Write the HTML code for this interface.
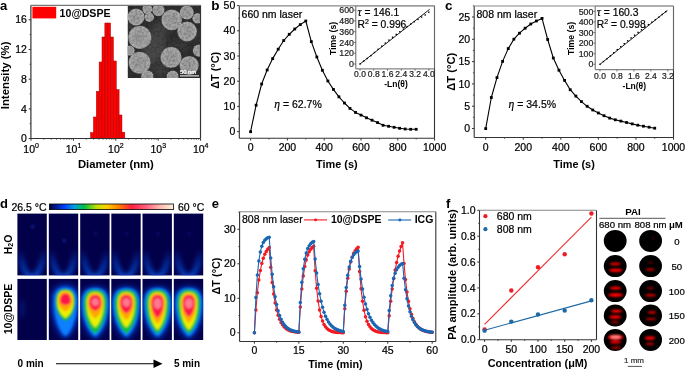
<!DOCTYPE html>
<html><head><meta charset="utf-8"><style>
html,body{margin:0;padding:0;background:#fff;}
svg{display:block;will-change:transform;}
text{font-family:"Liberation Sans", sans-serif;}
</style></head><body>
<svg width="685" height="370" viewBox="0 0 685 370" font-family='"Liberation Sans", sans-serif'>
<defs>
<clipPath id="semclip"><rect x="127.6" y="5.0" width="72.9" height="73.0"/></clipPath>
<filter id="noise" x="0" y="0" width="100%" height="100%"><feTurbulence type="fractalNoise" baseFrequency="0.45" numOctaves="2" seed="7"/><feColorMatrix type="matrix" values="0 0 0 0 0  0 0 0 0 0  0 0 0 0 0  0 0 0 -2.2 1.4"/></filter>
<radialGradient id="semg"><stop offset="0" stop-color="#9c9c9c"/><stop offset="0.7" stop-color="#a4a4a4"/><stop offset="0.9" stop-color="#afafaf"/><stop offset="1" stop-color="#888"/></radialGradient><filter id="blur3" x="-50%" y="-50%" width="200%" height="200%"><feGaussianBlur stdDeviation="3"/></filter><filter id="blur05" x="-10%" y="-10%" width="120%" height="120%"><feGaussianBlur stdDeviation="0.6"/></filter>
<linearGradient id="cbar" x1="0" x2="1" y1="0" y2="0"><stop offset="0" stop-color="#000040"/><stop offset="0.12" stop-color="#0040ff"/><stop offset="0.2" stop-color="#00a0e0"/><stop offset="0.28" stop-color="#00c040"/><stop offset="0.38" stop-color="#c0e000"/><stop offset="0.46" stop-color="#ffd000"/><stop offset="0.56" stop-color="#ff8000"/><stop offset="0.66" stop-color="#ff2040"/><stop offset="0.78" stop-color="#ff6080"/><stop offset="0.9" stop-color="#ffc0b0"/><stop offset="1" stop-color="#fff0e0"/></linearGradient>
<linearGradient id="ugrad" x1="0" y1="0" x2="0" y2="1"><stop offset="0" stop-color="#0a50e0" stop-opacity="0"/><stop offset="0.45" stop-color="#0a50e0" stop-opacity="0.45"/><stop offset="1" stop-color="#0a58e8" stop-opacity="0.75"/></linearGradient>
<filter id="blur2" x="-50%" y="-50%" width="200%" height="200%"><feGaussianBlur stdDeviation="2"/></filter>
<filter id="blur1" x="-50%" y="-50%" width="200%" height="200%"><feGaussianBlur stdDeviation="1.3"/></filter>
<g id="blob3">
<g filter="url(#blur3)">
<path d="M-14.5,0 C-14.5,-12.09 -7.98,-15.5 0,-15.5 C7.98,-15.5 14.5,-12.09 14.5,0 C14.5,18.00 7.25,30.96 0,36 C-7.25,30.96 -14.5,18.00 -14.5,0 Z" fill="#0048e8" />
</g><g filter="url(#blur15)">
<path d="M-12.8,0 C-12.8,-11.39 -7.04,-14.6 0,-14.6 C7.04,-14.6 12.8,-11.39 12.8,0 C12.8,16.75 6.40,28.81 0,33.5 C-6.40,28.81 -12.8,16.75 -12.8,0 Z" fill="#0a90ff" />
</g><g filter="url(#blur07)">
<path d="M-11.0,0 C-11.0,-10.14 -6.05,-13.0 0,-13.0 C6.05,-13.0 11.0,-10.14 11.0,0 C11.0,15.25 5.50,26.23 0,30.5 C-5.50,26.23 -11.0,15.25 -11.0,0 Z" fill="#10c040" />
<path d="M-8.5,0 C-8.5,-8.35 -4.68,-10.7 0,-10.7 C4.68,-10.7 8.5,-8.35 8.5,0 C8.5,12.25 4.25,21.07 0,24.5 C-4.25,21.07 -8.5,12.25 -8.5,0 Z" fill="#eef000" />
<path d="M-7.4,0 C-7.4,-7.49 -4.07,-9.6 0,-9.6 C4.07,-9.6 7.4,-7.49 7.4,0 C7.4,7.75 3.70,13.33 0,15.5 C-3.70,13.33 -7.4,7.75 -7.4,0 Z" fill="#ffa800" />
<path d="M-6.0,0 C-6.0,-6.24 -3.30,-8.0 0,-8.0 C3.30,-8.0 6.0,-6.24 6.0,0 C6.0,4.00 3.00,6.88 0,8 C-3.00,6.88 -6.0,4.00 -6.0,0 Z" fill="#ff1848" />
<ellipse cx="0.1" cy="-0.8" rx="3.6" ry="3.8" fill="#ff7890"/>
</g></g>
<g id="blob4">
<g filter="url(#blur3)">
<path d="M-14.5,0 C-14.5,-12.09 -7.98,-15.5 0,-15.5 C7.98,-15.5 14.5,-12.09 14.5,0 C14.5,18.00 7.25,30.96 0,36 C-7.25,30.96 -14.5,18.00 -14.5,0 Z" fill="#0048e8" />
</g><g filter="url(#blur15)">
<path d="M-12.8,0 C-12.8,-11.39 -7.04,-14.6 0,-14.6 C7.04,-14.6 12.8,-11.39 12.8,0 C12.8,16.75 6.40,28.81 0,33.5 C-6.40,28.81 -12.8,16.75 -12.8,0 Z" fill="#0a90ff" />
</g><g filter="url(#blur07)">
<path d="M-11.0,0 C-11.0,-10.14 -6.05,-13.0 0,-13.0 C6.05,-13.0 11.0,-10.14 11.0,0 C11.0,15.25 5.50,26.23 0,30.5 C-5.50,26.23 -11.0,15.25 -11.0,0 Z" fill="#10c040" />
<path d="M-8.5,0 C-8.5,-8.35 -4.68,-10.7 0,-10.7 C4.68,-10.7 8.5,-8.35 8.5,0 C8.5,12.25 4.25,21.07 0,24.5 C-4.25,21.07 -8.5,12.25 -8.5,0 Z" fill="#eef000" />
<path d="M-7.4,0 C-7.4,-7.49 -4.07,-9.6 0,-9.6 C4.07,-9.6 7.4,-7.49 7.4,0 C7.4,8.50 3.70,14.62 0,17 C-3.70,14.62 -7.4,8.50 -7.4,0 Z" fill="#ffa800" />
<path d="M-6.0,0 C-6.0,-6.24 -3.30,-8.0 0,-8.0 C3.30,-8.0 6.0,-6.24 6.0,0 C6.0,5.25 3.00,9.03 0,10.5 C-3.00,9.03 -6.0,5.25 -6.0,0 Z" fill="#ff1848" />
<ellipse cx="0.1" cy="-0.5" rx="3.8" ry="4.5" fill="#ff7890"/>
</g></g>
<g id="blob5">
<g filter="url(#blur3)">
<path d="M-14.5,0 C-14.5,-12.09 -7.98,-15.5 0,-15.5 C7.98,-15.5 14.5,-12.09 14.5,0 C14.5,18.00 7.25,30.96 0,36 C-7.25,30.96 -14.5,18.00 -14.5,0 Z" fill="#0048e8" />
</g><g filter="url(#blur15)">
<path d="M-12.8,0 C-12.8,-11.39 -7.04,-14.6 0,-14.6 C7.04,-14.6 12.8,-11.39 12.8,0 C12.8,16.75 6.40,28.81 0,33.5 C-6.40,28.81 -12.8,16.75 -12.8,0 Z" fill="#0a90ff" />
</g><g filter="url(#blur07)">
<path d="M-11.0,0 C-11.0,-10.14 -6.05,-13.0 0,-13.0 C6.05,-13.0 11.0,-10.14 11.0,0 C11.0,15.25 5.50,26.23 0,30.5 C-5.50,26.23 -11.0,15.25 -11.0,0 Z" fill="#10c040" />
<path d="M-8.5,0 C-8.5,-8.35 -4.68,-10.7 0,-10.7 C4.68,-10.7 8.5,-8.35 8.5,0 C8.5,13.50 4.25,23.22 0,27 C-4.25,23.22 -8.5,13.50 -8.5,0 Z" fill="#eef000" />
<path d="M-7.4,0 C-7.4,-7.49 -4.07,-9.6 0,-9.6 C4.07,-9.6 7.4,-7.49 7.4,0 C7.4,10.50 3.70,18.06 0,21 C-3.70,18.06 -7.4,10.50 -7.4,0 Z" fill="#ffa800" />
<path d="M-6.0,0 C-6.0,-6.24 -3.30,-8.0 0,-8.0 C3.30,-8.0 6.0,-6.24 6.0,0 C6.0,7.50 3.00,12.90 0,15 C-3.00,12.90 -6.0,7.50 -6.0,0 Z" fill="#ff1848" />
<ellipse cx="0.1" cy="0.5" rx="4.0" ry="5.5" fill="#ff7890"/>
</g></g>
<g id="blob6">
<g filter="url(#blur3)">
<path d="M-14.5,0 C-14.5,-12.09 -7.98,-15.5 0,-15.5 C7.98,-15.5 14.5,-12.09 14.5,0 C14.5,18.00 7.25,30.96 0,36 C-7.25,30.96 -14.5,18.00 -14.5,0 Z" fill="#0048e8" />
</g><g filter="url(#blur15)">
<path d="M-12.8,0 C-12.8,-11.39 -7.04,-14.6 0,-14.6 C7.04,-14.6 12.8,-11.39 12.8,0 C12.8,16.75 6.40,28.81 0,33.5 C-6.40,28.81 -12.8,16.75 -12.8,0 Z" fill="#0a90ff" />
</g><g filter="url(#blur07)">
<path d="M-11.0,0 C-11.0,-10.14 -6.05,-13.0 0,-13.0 C6.05,-13.0 11.0,-10.14 11.0,0 C11.0,15.25 5.50,26.23 0,30.5 C-5.50,26.23 -11.0,15.25 -11.0,0 Z" fill="#10c040" />
<path d="M-8.5,0 C-8.5,-8.35 -4.68,-10.7 0,-10.7 C4.68,-10.7 8.5,-8.35 8.5,0 C8.5,13.50 4.25,23.22 0,27 C-4.25,23.22 -8.5,13.50 -8.5,0 Z" fill="#eef000" />
<path d="M-7.4,0 C-7.4,-7.49 -4.07,-9.6 0,-9.6 C4.07,-9.6 7.4,-7.49 7.4,0 C7.4,10.00 3.70,17.20 0,20 C-3.70,17.20 -7.4,10.00 -7.4,0 Z" fill="#ffa800" />
<path d="M-6.0,0 C-6.0,-6.24 -3.30,-8.0 0,-8.0 C3.30,-8.0 6.0,-6.24 6.0,0 C6.0,7.00 3.00,12.04 0,14 C-3.00,12.04 -6.0,7.00 -6.0,0 Z" fill="#ff1848" />
<ellipse cx="0.1" cy="0.3" rx="4.0" ry="5.3" fill="#ff7890"/>
</g></g>
<g id="blobA">
<g filter="url(#blur3)">
<path d="M-13.5,0 C-13.5,-12.48 -7.43,-16 0,-16 C7.43,-16 13.5,-12.48 13.5,0 C13.5,18.50 6.75,31.82 0,37 C-6.75,31.82 -13.5,18.50 -13.5,0 Z" fill="#0048e8" />
</g><g filter="url(#blur15)">
<path d="M-11.5,0 C-11.5,-10.92 -6.33,-14 0,-14 C6.33,-14 11.5,-10.92 11.5,0 C11.5,17.50 5.75,30.10 0,35 C-5.75,30.10 -11.5,17.50 -11.5,0 Z" fill="#0a80ff" />
</g><g filter="url(#blur07)">
<path d="M-9.6,0 C-9.6,-9.52 -5.28,-12.2 0,-12.2 C5.28,-12.2 9.6,-9.52 9.6,0 C9.6,9.75 4.80,16.77 0,19.5 C-4.80,16.77 -9.6,9.75 -9.6,0 Z" fill="#10c040" />
<path d="M-8.2,0 C-8.2,-8.42 -4.51,-10.8 0,-10.8 C4.51,-10.8 8.2,-8.42 8.2,0 C8.2,8.25 4.10,14.19 0,16.5 C-4.10,14.19 -8.2,8.25 -8.2,0 Z" fill="#eef000" />
<path d="M-7.0,0 C-7.0,-7.49 -3.85,-9.6 0,-9.6 C3.85,-9.6 7.0,-7.49 7.0,0 C7.0,5.00 3.50,8.60 0,10 C-3.50,8.60 -7.0,5.00 -7.0,0 Z" fill="#ffa800" />
<path d="M-5.3,0 C-5.3,-6.24 -2.92,-8.0 0,-8.0 C2.92,-8.0 5.3,-6.24 5.3,0 C5.3,1.90 2.65,3.27 0,3.8 C-2.65,3.27 -5.3,1.90 -5.3,0 Z" fill="#ff1848" />
</g></g>
<filter id="blur15" x="-50%" y="-50%" width="200%" height="200%"><feGaussianBlur stdDeviation="1.5"/></filter><filter id="blur07" x="-50%" y="-50%" width="200%" height="200%"><feGaussianBlur stdDeviation="0.8"/></filter><filter id="blur1b" x="-50%" y="-100%" width="200%" height="300%"><feGaussianBlur stdDeviation="0.95"/></filter><filter id="blur03" x="-10%" y="-10%" width="120%" height="120%"><feGaussianBlur stdDeviation="0.35"/></filter>
</defs>
<rect width="685" height="370" fill="#fff"/>
<text x="0.00" y="10.30" font-size="13" font-weight="bold" text-anchor="start" fill="#000" >a</text>
<rect x="90.60" y="132.70" width="2.85" height="5.80" fill="#ff0000" stroke="#a00000" stroke-width="0.5"/>
<rect x="93.45" y="117.00" width="2.85" height="21.50" fill="#ff0000" stroke="#a00000" stroke-width="0.5"/>
<rect x="96.30" y="91.40" width="2.85" height="47.10" fill="#ff0000" stroke="#a00000" stroke-width="0.5"/>
<rect x="99.15" y="62.00" width="2.85" height="76.50" fill="#ff0000" stroke="#a00000" stroke-width="0.5"/>
<rect x="102.00" y="37.00" width="2.85" height="101.50" fill="#ff0000" stroke="#a00000" stroke-width="0.5"/>
<rect x="104.85" y="23.00" width="2.85" height="115.50" fill="#ff0000" stroke="#a00000" stroke-width="0.5"/>
<rect x="107.70" y="23.00" width="2.85" height="115.50" fill="#ff0000" stroke="#a00000" stroke-width="0.5"/>
<rect x="110.55" y="37.00" width="2.85" height="101.50" fill="#ff0000" stroke="#a00000" stroke-width="0.5"/>
<rect x="113.40" y="61.00" width="2.85" height="77.50" fill="#ff0000" stroke="#a00000" stroke-width="0.5"/>
<rect x="116.25" y="89.70" width="2.85" height="48.80" fill="#ff0000" stroke="#a00000" stroke-width="0.5"/>
<rect x="119.10" y="115.00" width="2.85" height="23.50" fill="#ff0000" stroke="#a00000" stroke-width="0.5"/>
<rect x="121.95" y="132.30" width="2.85" height="6.20" fill="#ff0000" stroke="#a00000" stroke-width="0.5"/>
<g clip-path="url(#semclip)">
<rect x="127.6" y="5.0" width="72.9" height="73.0" fill="#303030"/>
<ellipse cx="156" cy="45" rx="10" ry="16" fill="#4a4a4a" filter="url(#blur3)"/>
<ellipse cx="160" cy="30" rx="8" ry="8" fill="#444" filter="url(#blur3)"/>
<ellipse cx="150" cy="55" rx="7" ry="10" fill="#4c4c4c" filter="url(#blur3)"/>
<ellipse cx="180" cy="45" rx="8" ry="5" fill="#3e3e3e" filter="url(#blur3)"/>
<ellipse cx="133" cy="28" rx="5" ry="5" fill="#404040" filter="url(#blur3)"/>
<ellipse cx="160" cy="70" rx="8" ry="6" fill="#424242" filter="url(#blur3)"/>
<ellipse cx="196" cy="36" rx="4" ry="6" fill="#3a3a3a" filter="url(#blur3)"/>
<g filter="url(#blur05)">
<circle cx="136.1" cy="17.0" r="8.6" fill="url(#semg)"/>
<circle cx="149.3" cy="17.2" r="4.7" fill="url(#semg)"/>
<circle cx="158.4" cy="10.1" r="6.2" fill="url(#semg)"/>
<circle cx="147.3" cy="9.1" r="5.0" fill="url(#semg)"/>
<circle cx="171.7" cy="19.8" r="10.4" fill="url(#semg)"/>
<circle cx="186.8" cy="12.5" r="7.0" fill="url(#semg)"/>
<circle cx="197.5" cy="18.2" r="5.2" fill="url(#semg)"/>
<circle cx="187.1" cy="31.5" r="9.9" fill="url(#semg)"/>
<circle cx="139.8" cy="37.4" r="11.6" fill="url(#semg)"/>
<circle cx="171.1" cy="57.4" r="10.6" fill="url(#semg)"/>
<circle cx="139.6" cy="62.7" r="11.0" fill="url(#semg)"/>
<circle cx="189.2" cy="65.5" r="9.6" fill="url(#semg)"/>
<circle cx="199" cy="50.6" r="6.2" fill="url(#semg)"/>
<circle cx="129.5" cy="50.6" r="5.2" fill="url(#semg)"/>
<circle cx="147.3" cy="76.5" r="6.2" fill="url(#semg)"/>
<circle cx="172.6" cy="76.5" r="6.0" fill="url(#semg)"/>
</g>
<rect x="127.6" y="5.0" width="72.9" height="73.0" fill="#000" filter="url(#noise)" opacity="0.22"/>
</g>
<text x="180.00" y="74.20" font-size="5.8" text-anchor="start" fill="#fff" stroke="#fff" stroke-width="0.22" >50 nm</text>
<line x1="180.00" y1="75.90" x2="199.00" y2="75.90" stroke="#fff" stroke-width="1.0" />
<line x1="30.90" y1="5.30" x2="30.90" y2="138.50" stroke="#333" stroke-width="1.2" />
<line x1="30.90" y1="138.50" x2="200.50" y2="138.50" stroke="#333" stroke-width="1.2" />
<line x1="200.50" y1="5.30" x2="200.50" y2="138.50" stroke="#333" stroke-width="1.2" />
<line x1="30.90" y1="5.30" x2="200.50" y2="5.30" stroke="#777" stroke-width="1.2" />
<line x1="28.70" y1="138.50" x2="30.90" y2="138.50" stroke="#333" stroke-width="1" />
<text x="26.90" y="142.10" font-size="10.5" text-anchor="end" fill="#000" stroke="#000" stroke-width="0.22" >0</text>
<line x1="28.70" y1="108.90" x2="30.90" y2="108.90" stroke="#333" stroke-width="1" />
<text x="26.90" y="112.50" font-size="10.5" text-anchor="end" fill="#000" stroke="#000" stroke-width="0.22" >4</text>
<line x1="28.70" y1="79.20" x2="30.90" y2="79.20" stroke="#333" stroke-width="1" />
<text x="26.90" y="82.80" font-size="10.5" text-anchor="end" fill="#000" stroke="#000" stroke-width="0.22" >8</text>
<line x1="28.70" y1="49.50" x2="30.90" y2="49.50" stroke="#333" stroke-width="1" />
<text x="26.90" y="53.10" font-size="10.5" text-anchor="end" fill="#000" stroke="#000" stroke-width="0.22" >12</text>
<line x1="28.70" y1="19.80" x2="30.90" y2="19.80" stroke="#333" stroke-width="1" />
<text x="26.90" y="23.40" font-size="10.5" text-anchor="end" fill="#000" stroke="#000" stroke-width="0.22" >16</text>
<line x1="29.60" y1="123.65" x2="30.90" y2="123.65" stroke="#333" stroke-width="0.8" />
<line x1="29.60" y1="93.95" x2="30.90" y2="93.95" stroke="#333" stroke-width="0.8" />
<line x1="29.60" y1="64.25" x2="30.90" y2="64.25" stroke="#333" stroke-width="0.8" />
<line x1="29.60" y1="34.55" x2="30.90" y2="34.55" stroke="#333" stroke-width="0.8" />
<line x1="31.00" y1="138.50" x2="31.00" y2="140.70" stroke="#333" stroke-width="1" />
<text x="31.10" y="152.8" font-size="10.5" text-anchor="middle" stroke="#000" stroke-width="0.22">10<tspan font-size="7" dy="-4.5">0</tspan></text>
<line x1="43.76" y1="138.50" x2="43.76" y2="139.80" stroke="#333" stroke-width="0.7" />
<line x1="51.23" y1="138.50" x2="51.23" y2="139.80" stroke="#333" stroke-width="0.7" />
<line x1="56.53" y1="138.50" x2="56.53" y2="139.80" stroke="#333" stroke-width="0.7" />
<line x1="60.64" y1="138.50" x2="60.64" y2="139.80" stroke="#333" stroke-width="0.7" />
<line x1="63.99" y1="138.50" x2="63.99" y2="139.80" stroke="#333" stroke-width="0.7" />
<line x1="66.83" y1="138.50" x2="66.83" y2="139.80" stroke="#333" stroke-width="0.7" />
<line x1="69.29" y1="138.50" x2="69.29" y2="139.80" stroke="#333" stroke-width="0.7" />
<line x1="71.46" y1="138.50" x2="71.46" y2="139.80" stroke="#333" stroke-width="0.7" />
<line x1="73.40" y1="138.50" x2="73.40" y2="140.70" stroke="#333" stroke-width="1" />
<text x="73.50" y="152.8" font-size="10.5" text-anchor="middle" stroke="#000" stroke-width="0.22">10<tspan font-size="7" dy="-4.5">1</tspan></text>
<line x1="86.16" y1="138.50" x2="86.16" y2="139.80" stroke="#333" stroke-width="0.7" />
<line x1="93.63" y1="138.50" x2="93.63" y2="139.80" stroke="#333" stroke-width="0.7" />
<line x1="98.93" y1="138.50" x2="98.93" y2="139.80" stroke="#333" stroke-width="0.7" />
<line x1="103.04" y1="138.50" x2="103.04" y2="139.80" stroke="#333" stroke-width="0.7" />
<line x1="106.39" y1="138.50" x2="106.39" y2="139.80" stroke="#333" stroke-width="0.7" />
<line x1="109.23" y1="138.50" x2="109.23" y2="139.80" stroke="#333" stroke-width="0.7" />
<line x1="111.69" y1="138.50" x2="111.69" y2="139.80" stroke="#333" stroke-width="0.7" />
<line x1="113.86" y1="138.50" x2="113.86" y2="139.80" stroke="#333" stroke-width="0.7" />
<line x1="115.80" y1="138.50" x2="115.80" y2="140.70" stroke="#333" stroke-width="1" />
<text x="115.90" y="152.8" font-size="10.5" text-anchor="middle" stroke="#000" stroke-width="0.22">10<tspan font-size="7" dy="-4.5">2</tspan></text>
<line x1="128.56" y1="138.50" x2="128.56" y2="139.80" stroke="#333" stroke-width="0.7" />
<line x1="136.03" y1="138.50" x2="136.03" y2="139.80" stroke="#333" stroke-width="0.7" />
<line x1="141.33" y1="138.50" x2="141.33" y2="139.80" stroke="#333" stroke-width="0.7" />
<line x1="145.44" y1="138.50" x2="145.44" y2="139.80" stroke="#333" stroke-width="0.7" />
<line x1="148.79" y1="138.50" x2="148.79" y2="139.80" stroke="#333" stroke-width="0.7" />
<line x1="151.63" y1="138.50" x2="151.63" y2="139.80" stroke="#333" stroke-width="0.7" />
<line x1="154.09" y1="138.50" x2="154.09" y2="139.80" stroke="#333" stroke-width="0.7" />
<line x1="156.26" y1="138.50" x2="156.26" y2="139.80" stroke="#333" stroke-width="0.7" />
<line x1="158.20" y1="138.50" x2="158.20" y2="140.70" stroke="#333" stroke-width="1" />
<text x="158.30" y="152.8" font-size="10.5" text-anchor="middle" stroke="#000" stroke-width="0.22">10<tspan font-size="7" dy="-4.5">3</tspan></text>
<line x1="170.96" y1="138.50" x2="170.96" y2="139.80" stroke="#333" stroke-width="0.7" />
<line x1="178.43" y1="138.50" x2="178.43" y2="139.80" stroke="#333" stroke-width="0.7" />
<line x1="183.73" y1="138.50" x2="183.73" y2="139.80" stroke="#333" stroke-width="0.7" />
<line x1="187.84" y1="138.50" x2="187.84" y2="139.80" stroke="#333" stroke-width="0.7" />
<line x1="191.19" y1="138.50" x2="191.19" y2="139.80" stroke="#333" stroke-width="0.7" />
<line x1="194.03" y1="138.50" x2="194.03" y2="139.80" stroke="#333" stroke-width="0.7" />
<line x1="196.49" y1="138.50" x2="196.49" y2="139.80" stroke="#333" stroke-width="0.7" />
<line x1="198.66" y1="138.50" x2="198.66" y2="139.80" stroke="#333" stroke-width="0.7" />
<line x1="200.60" y1="138.50" x2="200.60" y2="140.70" stroke="#333" stroke-width="1" />
<text x="200.70" y="152.8" font-size="10.5" text-anchor="middle" stroke="#000" stroke-width="0.22">10<tspan font-size="7" dy="-4.5">4</tspan></text>
<text x="115.90" y="167.60" font-size="11.3" font-weight="bold" text-anchor="middle" fill="#000" >Diameter (nm)</text>
<text transform="translate(4.90,75.40) rotate(-90)" x="0" y="0" font-size="11.4" font-weight="bold" text-anchor="middle" dominant-baseline="central" fill="#000">Intensity (%)</text>
<rect x="32.4" y="6.8" width="23.8" height="11.6" fill="#ff0000"/>
<text x="59.60" y="16.50" font-size="10.6" font-weight="bold" text-anchor="start" fill="#000" >10@DSPE</text>
<text x="211.30" y="10.30" font-size="13.5" font-weight="bold" text-anchor="start" fill="#000" >b</text>
<polyline points="250.60,131.70 256.12,105.20 261.64,84.00 267.16,70.00 272.68,58.60 278.20,49.20 283.72,40.50 289.24,34.30 294.76,29.00 300.28,24.60 305.80,21.00 311.32,41.60 316.84,57.00 322.36,70.30 327.88,81.00 333.40,89.40 338.92,96.80 344.44,103.00 349.96,108.40 355.48,112.40 361.00,115.10 366.52,117.80 372.04,120.20 377.56,122.60 383.08,125.30 388.60,126.30 394.12,127.30 399.64,128.30 405.16,129.00 410.68,129.30 416.20,129.30" fill="none" stroke="#000" stroke-width="1.1" stroke-linejoin="round" />
<rect x="249.20" y="130.30" width="2.8" height="2.8" fill="#000"/>
<rect x="254.72" y="103.80" width="2.8" height="2.8" fill="#000"/>
<rect x="260.24" y="82.60" width="2.8" height="2.8" fill="#000"/>
<rect x="265.76" y="68.60" width="2.8" height="2.8" fill="#000"/>
<rect x="271.28" y="57.20" width="2.8" height="2.8" fill="#000"/>
<rect x="276.80" y="47.80" width="2.8" height="2.8" fill="#000"/>
<rect x="282.32" y="39.10" width="2.8" height="2.8" fill="#000"/>
<rect x="287.84" y="32.90" width="2.8" height="2.8" fill="#000"/>
<rect x="293.36" y="27.60" width="2.8" height="2.8" fill="#000"/>
<rect x="298.88" y="23.20" width="2.8" height="2.8" fill="#000"/>
<rect x="304.40" y="19.60" width="2.8" height="2.8" fill="#000"/>
<rect x="309.92" y="40.20" width="2.8" height="2.8" fill="#000"/>
<rect x="315.44" y="55.60" width="2.8" height="2.8" fill="#000"/>
<rect x="320.96" y="68.90" width="2.8" height="2.8" fill="#000"/>
<rect x="326.48" y="79.60" width="2.8" height="2.8" fill="#000"/>
<rect x="332.00" y="88.00" width="2.8" height="2.8" fill="#000"/>
<rect x="337.52" y="95.40" width="2.8" height="2.8" fill="#000"/>
<rect x="343.04" y="101.60" width="2.8" height="2.8" fill="#000"/>
<rect x="348.56" y="107.00" width="2.8" height="2.8" fill="#000"/>
<rect x="354.08" y="111.00" width="2.8" height="2.8" fill="#000"/>
<rect x="359.60" y="113.70" width="2.8" height="2.8" fill="#000"/>
<rect x="365.12" y="116.40" width="2.8" height="2.8" fill="#000"/>
<rect x="370.64" y="118.80" width="2.8" height="2.8" fill="#000"/>
<rect x="376.16" y="121.20" width="2.8" height="2.8" fill="#000"/>
<rect x="381.68" y="123.90" width="2.8" height="2.8" fill="#000"/>
<rect x="387.20" y="124.90" width="2.8" height="2.8" fill="#000"/>
<rect x="392.72" y="125.90" width="2.8" height="2.8" fill="#000"/>
<rect x="398.24" y="126.90" width="2.8" height="2.8" fill="#000"/>
<rect x="403.76" y="127.60" width="2.8" height="2.8" fill="#000"/>
<rect x="409.28" y="127.90" width="2.8" height="2.8" fill="#000"/>
<rect x="414.80" y="127.90" width="2.8" height="2.8" fill="#000"/>
<rect x="355.8" y="5.8" width="78.69999999999999" height="63.10000000000001" fill="#fff"/>
<line x1="239.30" y1="5.90" x2="239.30" y2="138.30" stroke="#333" stroke-width="1.1" />
<line x1="239.30" y1="138.30" x2="434.50" y2="138.30" stroke="#333" stroke-width="1.1" />
<line x1="434.50" y1="5.90" x2="434.50" y2="138.30" stroke="#333" stroke-width="1.1" />
<line x1="239.30" y1="5.90" x2="434.50" y2="5.90" stroke="#888" stroke-width="1.1" />
<line x1="237.10" y1="131.60" x2="239.30" y2="131.60" stroke="#333" stroke-width="1" />
<text x="235.30" y="135.20" font-size="10.5" text-anchor="end" fill="#000" stroke="#000" stroke-width="0.22" >0</text>
<line x1="238.00" y1="119.00" x2="239.30" y2="119.00" stroke="#333" stroke-width="0.8" />
<line x1="237.10" y1="106.40" x2="239.30" y2="106.40" stroke="#333" stroke-width="1" />
<text x="235.30" y="110.00" font-size="10.5" text-anchor="end" fill="#000" stroke="#000" stroke-width="0.22" >10</text>
<line x1="238.00" y1="93.80" x2="239.30" y2="93.80" stroke="#333" stroke-width="0.8" />
<line x1="237.10" y1="81.20" x2="239.30" y2="81.20" stroke="#333" stroke-width="1" />
<text x="235.30" y="84.80" font-size="10.5" text-anchor="end" fill="#000" stroke="#000" stroke-width="0.22" >20</text>
<line x1="238.00" y1="68.60" x2="239.30" y2="68.60" stroke="#333" stroke-width="0.8" />
<line x1="237.10" y1="56.00" x2="239.30" y2="56.00" stroke="#333" stroke-width="1" />
<text x="235.30" y="59.60" font-size="10.5" text-anchor="end" fill="#000" stroke="#000" stroke-width="0.22" >30</text>
<line x1="238.00" y1="43.40" x2="239.30" y2="43.40" stroke="#333" stroke-width="0.8" />
<line x1="237.10" y1="30.80" x2="239.30" y2="30.80" stroke="#333" stroke-width="1" />
<text x="235.30" y="34.40" font-size="10.5" text-anchor="end" fill="#000" stroke="#000" stroke-width="0.22" >40</text>
<line x1="238.00" y1="18.20" x2="239.30" y2="18.20" stroke="#333" stroke-width="0.8" />
<line x1="237.10" y1="5.60" x2="239.30" y2="5.60" stroke="#333" stroke-width="1" />
<text x="235.30" y="9.20" font-size="10.5" text-anchor="end" fill="#000" stroke="#000" stroke-width="0.22" >50</text>
<line x1="250.60" y1="138.30" x2="250.60" y2="140.50" stroke="#333" stroke-width="1" />
<text x="250.60" y="151.00" font-size="10.5" text-anchor="middle" fill="#000" stroke="#000" stroke-width="0.22" >0</text>
<line x1="269.00" y1="138.30" x2="269.00" y2="139.60" stroke="#333" stroke-width="0.8" />
<line x1="287.40" y1="138.30" x2="287.40" y2="140.50" stroke="#333" stroke-width="1" />
<text x="287.40" y="151.00" font-size="10.5" text-anchor="middle" fill="#000" stroke="#000" stroke-width="0.22" >200</text>
<line x1="305.80" y1="138.30" x2="305.80" y2="139.60" stroke="#333" stroke-width="0.8" />
<line x1="324.20" y1="138.30" x2="324.20" y2="140.50" stroke="#333" stroke-width="1" />
<text x="324.20" y="151.00" font-size="10.5" text-anchor="middle" fill="#000" stroke="#000" stroke-width="0.22" >400</text>
<line x1="342.60" y1="138.30" x2="342.60" y2="139.60" stroke="#333" stroke-width="0.8" />
<line x1="361.00" y1="138.30" x2="361.00" y2="140.50" stroke="#333" stroke-width="1" />
<text x="361.00" y="151.00" font-size="10.5" text-anchor="middle" fill="#000" stroke="#000" stroke-width="0.22" >600</text>
<line x1="379.40" y1="138.30" x2="379.40" y2="139.60" stroke="#333" stroke-width="0.8" />
<line x1="397.80" y1="138.30" x2="397.80" y2="140.50" stroke="#333" stroke-width="1" />
<text x="397.80" y="151.00" font-size="10.5" text-anchor="middle" fill="#000" stroke="#000" stroke-width="0.22" >800</text>
<line x1="416.20" y1="138.30" x2="416.20" y2="139.60" stroke="#333" stroke-width="0.8" />
<line x1="434.60" y1="138.30" x2="434.60" y2="140.50" stroke="#333" stroke-width="1" />
<text x="434.60" y="151.00" font-size="10.5" text-anchor="middle" fill="#000" stroke="#000" stroke-width="0.22" >1000</text>
<text x="336.80" y="167.80" font-size="10.9" font-weight="bold" text-anchor="middle" fill="#000" >Time (s)</text>
<text transform="translate(215.40,70.30) rotate(-90)" x="0" y="0" font-size="10.9" font-weight="bold" text-anchor="middle" dominant-baseline="central" fill="#000">ΔT (°C)</text>
<text x="241.60" y="17.90" font-size="10.5" text-anchor="start" fill="#000" stroke="#000" stroke-width="0.22" >660 nm laser</text>
<text x="274.3" y="107.6" font-size="10.5" stroke="#000" stroke-width="0.2"><tspan font-family="Liberation Serif" font-style="italic" font-size="11.5">η</tspan> = 62.7%</text>
<line x1="355.80" y1="5.80" x2="355.80" y2="68.90" stroke="#666" stroke-width="1" />
<line x1="355.80" y1="68.90" x2="434.50" y2="68.90" stroke="#666" stroke-width="1" />
<line x1="434.50" y1="5.80" x2="434.50" y2="68.90" stroke="#666" stroke-width="1" />
<line x1="355.80" y1="5.80" x2="434.50" y2="5.80" stroke="#999" stroke-width="1" />
<line x1="354.00" y1="64.00" x2="355.80" y2="64.00" stroke="#555" stroke-width="0.8" />
<text x="354.00" y="67.10" font-size="8.8" text-anchor="end" fill="#222" stroke="#222" stroke-width="0.22" >0</text>
<line x1="354.00" y1="53.24" x2="355.80" y2="53.24" stroke="#555" stroke-width="0.8" />
<text x="354.00" y="56.34" font-size="8.8" text-anchor="end" fill="#222" stroke="#222" stroke-width="0.22" >120</text>
<line x1="354.00" y1="42.48" x2="355.80" y2="42.48" stroke="#555" stroke-width="0.8" />
<text x="354.00" y="45.58" font-size="8.8" text-anchor="end" fill="#222" stroke="#222" stroke-width="0.22" >240</text>
<line x1="354.00" y1="31.72" x2="355.80" y2="31.72" stroke="#555" stroke-width="0.8" />
<text x="354.00" y="34.82" font-size="8.8" text-anchor="end" fill="#222" stroke="#222" stroke-width="0.22" >360</text>
<line x1="354.00" y1="20.96" x2="355.80" y2="20.96" stroke="#555" stroke-width="0.8" />
<text x="354.00" y="24.06" font-size="8.8" text-anchor="end" fill="#222" stroke="#222" stroke-width="0.22" >480</text>
<line x1="354.00" y1="10.20" x2="355.80" y2="10.20" stroke="#555" stroke-width="0.8" />
<text x="354.00" y="13.30" font-size="8.8" text-anchor="end" fill="#222" stroke="#222" stroke-width="0.22" >600</text>
<line x1="360.00" y1="68.90" x2="360.00" y2="70.70" stroke="#555" stroke-width="0.8" />
<text x="360.00" y="77.30" font-size="8.5" text-anchor="middle" fill="#222" stroke="#222" stroke-width="0.22" >0.0</text>
<line x1="373.76" y1="68.90" x2="373.76" y2="70.70" stroke="#555" stroke-width="0.8" />
<text x="373.76" y="77.30" font-size="8.5" text-anchor="middle" fill="#222" stroke="#222" stroke-width="0.22" >0.8</text>
<line x1="387.52" y1="68.90" x2="387.52" y2="70.70" stroke="#555" stroke-width="0.8" />
<text x="387.52" y="77.30" font-size="8.5" text-anchor="middle" fill="#222" stroke="#222" stroke-width="0.22" >1.6</text>
<line x1="401.28" y1="68.90" x2="401.28" y2="70.70" stroke="#555" stroke-width="0.8" />
<text x="401.28" y="77.30" font-size="8.5" text-anchor="middle" fill="#222" stroke="#222" stroke-width="0.22" >2.4</text>
<line x1="415.04" y1="68.90" x2="415.04" y2="70.70" stroke="#555" stroke-width="0.8" />
<text x="415.04" y="77.30" font-size="8.5" text-anchor="middle" fill="#222" stroke="#222" stroke-width="0.22" >3.2</text>
<line x1="428.80" y1="68.90" x2="428.80" y2="70.70" stroke="#555" stroke-width="0.8" />
<text x="428.80" y="77.30" font-size="8.5" text-anchor="middle" fill="#222" stroke="#222" stroke-width="0.22" >4.0</text>
<line x1="360.00" y1="64.00" x2="429.66" y2="9.30" stroke="#000" stroke-width="0.9" />
<rect x="359.30" y="63.30" width="1.4" height="1.4" fill="#000"/>
<rect x="362.92" y="60.54" width="1.4" height="1.4" fill="#000"/>
<rect x="366.54" y="57.78" width="1.4" height="1.4" fill="#000"/>
<rect x="370.16" y="54.96" width="1.4" height="1.4" fill="#000"/>
<rect x="373.78" y="51.77" width="1.4" height="1.4" fill="#000"/>
<rect x="377.41" y="48.60" width="1.4" height="1.4" fill="#000"/>
<rect x="381.03" y="45.47" width="1.4" height="1.4" fill="#000"/>
<rect x="384.65" y="42.41" width="1.4" height="1.4" fill="#000"/>
<rect x="388.27" y="39.42" width="1.4" height="1.4" fill="#000"/>
<rect x="391.89" y="36.52" width="1.4" height="1.4" fill="#000"/>
<rect x="395.51" y="33.72" width="1.4" height="1.4" fill="#000"/>
<rect x="399.13" y="31.01" width="1.4" height="1.4" fill="#000"/>
<rect x="402.75" y="28.40" width="1.4" height="1.4" fill="#000"/>
<rect x="406.37" y="25.88" width="1.4" height="1.4" fill="#000"/>
<rect x="409.99" y="23.43" width="1.4" height="1.4" fill="#000"/>
<rect x="413.62" y="21.04" width="1.4" height="1.4" fill="#000"/>
<rect x="417.24" y="18.69" width="1.4" height="1.4" fill="#000"/>
<rect x="420.86" y="16.37" width="1.4" height="1.4" fill="#000"/>
<rect x="424.48" y="14.26" width="1.4" height="1.4" fill="#000"/>
<rect x="428.10" y="11.50" width="1.4" height="1.4" fill="#000"/>
<text x="396.00" y="87.20" font-size="8.5" font-weight="bold" text-anchor="middle" fill="#000" >-Ln(θ)</text>
<text transform="translate(332.80,38.40) rotate(-90)" x="0" y="0" font-size="8.7" font-weight="bold" text-anchor="middle" dominant-baseline="central" fill="#000">Time (s)</text>
<text x="357.5" y="15.8" font-size="10.3" stroke="#000" stroke-width="0.2"><tspan font-family="Liberation Serif" font-style="italic" font-size="11.5">τ</tspan> = 146.1</text>
<text x="357.5" y="27.6" font-size="10.3" stroke="#000" stroke-width="0.2">R<tspan font-size="7" dy="-3.6">2</tspan><tspan dy="3.6"> = 0.996</tspan></text>
<text x="445.00" y="10.30" font-size="13.5" font-weight="bold" text-anchor="start" fill="#000" >c</text>
<polyline points="485.70,128.60 491.33,97.50 496.97,77.60 502.60,61.40 508.24,48.60 513.87,39.20 519.50,33.20 525.14,28.20 530.77,24.00 536.41,21.00 542.04,18.40 547.67,39.50 553.31,58.00 558.94,70.20 564.58,80.40 570.21,89.70 575.84,96.10 581.48,101.60 587.11,106.30 592.75,110.00 598.38,113.00 604.01,115.70 609.65,118.10 615.28,119.80 620.92,121.10 626.55,122.50 632.18,123.90 637.82,125.20 643.45,126.20 649.09,127.20 654.72,128.20" fill="none" stroke="#000" stroke-width="1.1" stroke-linejoin="round" />
<rect x="484.30" y="127.20" width="2.8" height="2.8" fill="#000"/>
<rect x="489.93" y="96.10" width="2.8" height="2.8" fill="#000"/>
<rect x="495.57" y="76.20" width="2.8" height="2.8" fill="#000"/>
<rect x="501.20" y="60.00" width="2.8" height="2.8" fill="#000"/>
<rect x="506.84" y="47.20" width="2.8" height="2.8" fill="#000"/>
<rect x="512.47" y="37.80" width="2.8" height="2.8" fill="#000"/>
<rect x="518.10" y="31.80" width="2.8" height="2.8" fill="#000"/>
<rect x="523.74" y="26.80" width="2.8" height="2.8" fill="#000"/>
<rect x="529.37" y="22.60" width="2.8" height="2.8" fill="#000"/>
<rect x="535.01" y="19.60" width="2.8" height="2.8" fill="#000"/>
<rect x="540.64" y="17.00" width="2.8" height="2.8" fill="#000"/>
<rect x="546.27" y="38.10" width="2.8" height="2.8" fill="#000"/>
<rect x="551.91" y="56.60" width="2.8" height="2.8" fill="#000"/>
<rect x="557.54" y="68.80" width="2.8" height="2.8" fill="#000"/>
<rect x="563.18" y="79.00" width="2.8" height="2.8" fill="#000"/>
<rect x="568.81" y="88.30" width="2.8" height="2.8" fill="#000"/>
<rect x="574.44" y="94.70" width="2.8" height="2.8" fill="#000"/>
<rect x="580.08" y="100.20" width="2.8" height="2.8" fill="#000"/>
<rect x="585.71" y="104.90" width="2.8" height="2.8" fill="#000"/>
<rect x="591.35" y="108.60" width="2.8" height="2.8" fill="#000"/>
<rect x="596.98" y="111.60" width="2.8" height="2.8" fill="#000"/>
<rect x="602.61" y="114.30" width="2.8" height="2.8" fill="#000"/>
<rect x="608.25" y="116.70" width="2.8" height="2.8" fill="#000"/>
<rect x="613.88" y="118.40" width="2.8" height="2.8" fill="#000"/>
<rect x="619.52" y="119.70" width="2.8" height="2.8" fill="#000"/>
<rect x="625.15" y="121.10" width="2.8" height="2.8" fill="#000"/>
<rect x="630.78" y="122.50" width="2.8" height="2.8" fill="#000"/>
<rect x="636.42" y="123.80" width="2.8" height="2.8" fill="#000"/>
<rect x="642.05" y="124.80" width="2.8" height="2.8" fill="#000"/>
<rect x="647.69" y="125.80" width="2.8" height="2.8" fill="#000"/>
<rect x="653.32" y="126.80" width="2.8" height="2.8" fill="#000"/>
<rect x="595.2" y="6.0" width="78.29999999999995" height="63.7" fill="#fff"/>
<line x1="474.20" y1="6.00" x2="474.20" y2="137.50" stroke="#333" stroke-width="1.1" />
<line x1="474.20" y1="137.50" x2="673.50" y2="137.50" stroke="#333" stroke-width="1.1" />
<line x1="673.50" y1="6.00" x2="673.50" y2="137.50" stroke="#333" stroke-width="1.1" />
<line x1="474.20" y1="6.00" x2="673.50" y2="6.00" stroke="#888" stroke-width="1.1" />
<line x1="472.00" y1="128.50" x2="474.20" y2="128.50" stroke="#333" stroke-width="1" />
<text x="470.20" y="132.10" font-size="10.5" text-anchor="end" fill="#000" stroke="#000" stroke-width="0.22" >0</text>
<line x1="472.90" y1="117.35" x2="474.20" y2="117.35" stroke="#333" stroke-width="0.8" />
<line x1="472.00" y1="106.20" x2="474.20" y2="106.20" stroke="#333" stroke-width="1" />
<text x="470.20" y="109.80" font-size="10.5" text-anchor="end" fill="#000" stroke="#000" stroke-width="0.22" >5</text>
<line x1="472.90" y1="95.05" x2="474.20" y2="95.05" stroke="#333" stroke-width="0.8" />
<line x1="472.00" y1="83.90" x2="474.20" y2="83.90" stroke="#333" stroke-width="1" />
<text x="470.20" y="87.50" font-size="10.5" text-anchor="end" fill="#000" stroke="#000" stroke-width="0.22" >10</text>
<line x1="472.90" y1="72.75" x2="474.20" y2="72.75" stroke="#333" stroke-width="0.8" />
<line x1="472.00" y1="61.60" x2="474.20" y2="61.60" stroke="#333" stroke-width="1" />
<text x="470.20" y="65.20" font-size="10.5" text-anchor="end" fill="#000" stroke="#000" stroke-width="0.22" >15</text>
<line x1="472.90" y1="50.45" x2="474.20" y2="50.45" stroke="#333" stroke-width="0.8" />
<line x1="472.00" y1="39.30" x2="474.20" y2="39.30" stroke="#333" stroke-width="1" />
<text x="470.20" y="42.90" font-size="10.5" text-anchor="end" fill="#000" stroke="#000" stroke-width="0.22" >20</text>
<line x1="472.90" y1="28.15" x2="474.20" y2="28.15" stroke="#333" stroke-width="0.8" />
<line x1="472.00" y1="17.00" x2="474.20" y2="17.00" stroke="#333" stroke-width="1" />
<text x="470.20" y="20.60" font-size="10.5" text-anchor="end" fill="#000" stroke="#000" stroke-width="0.22" >25</text>
<line x1="472.90" y1="5.85" x2="474.20" y2="5.85" stroke="#333" stroke-width="0.8" />
<line x1="485.70" y1="137.50" x2="485.70" y2="139.70" stroke="#333" stroke-width="1" />
<text x="485.70" y="151.00" font-size="10.5" text-anchor="middle" fill="#000" stroke="#000" stroke-width="0.22" >0</text>
<line x1="504.48" y1="137.50" x2="504.48" y2="138.80" stroke="#333" stroke-width="0.8" />
<line x1="523.26" y1="137.50" x2="523.26" y2="139.70" stroke="#333" stroke-width="1" />
<text x="523.26" y="151.00" font-size="10.5" text-anchor="middle" fill="#000" stroke="#000" stroke-width="0.22" >200</text>
<line x1="542.04" y1="137.50" x2="542.04" y2="138.80" stroke="#333" stroke-width="0.8" />
<line x1="560.82" y1="137.50" x2="560.82" y2="139.70" stroke="#333" stroke-width="1" />
<text x="560.82" y="151.00" font-size="10.5" text-anchor="middle" fill="#000" stroke="#000" stroke-width="0.22" >400</text>
<line x1="579.60" y1="137.50" x2="579.60" y2="138.80" stroke="#333" stroke-width="0.8" />
<line x1="598.38" y1="137.50" x2="598.38" y2="139.70" stroke="#333" stroke-width="1" />
<text x="598.38" y="151.00" font-size="10.5" text-anchor="middle" fill="#000" stroke="#000" stroke-width="0.22" >600</text>
<line x1="617.16" y1="137.50" x2="617.16" y2="138.80" stroke="#333" stroke-width="0.8" />
<line x1="635.94" y1="137.50" x2="635.94" y2="139.70" stroke="#333" stroke-width="1" />
<text x="635.94" y="151.00" font-size="10.5" text-anchor="middle" fill="#000" stroke="#000" stroke-width="0.22" >800</text>
<line x1="654.72" y1="137.50" x2="654.72" y2="138.80" stroke="#333" stroke-width="0.8" />
<line x1="673.50" y1="137.50" x2="673.50" y2="139.70" stroke="#333" stroke-width="1" />
<text x="673.50" y="151.00" font-size="10.5" text-anchor="middle" fill="#000" stroke="#000" stroke-width="0.22" >1000</text>
<text x="574.00" y="167.80" font-size="10.9" font-weight="bold" text-anchor="middle" fill="#000" >Time (s)</text>
<text transform="translate(450.50,71.80) rotate(-90)" x="0" y="0" font-size="11.2" font-weight="bold" text-anchor="middle" dominant-baseline="central" fill="#000">ΔT (°C)</text>
<text x="476.50" y="17.50" font-size="10.5" text-anchor="start" fill="#000" stroke="#000" stroke-width="0.22" >808 nm laser</text>
<text x="508.6" y="107.6" font-size="10.5" stroke="#000" stroke-width="0.2"><tspan font-family="Liberation Serif" font-style="italic" font-size="11.5">η</tspan> = 34.5%</text>
<line x1="595.20" y1="6.00" x2="595.20" y2="69.70" stroke="#666" stroke-width="1" />
<line x1="595.20" y1="69.70" x2="673.50" y2="69.70" stroke="#666" stroke-width="1" />
<line x1="673.50" y1="6.00" x2="673.50" y2="69.70" stroke="#666" stroke-width="1" />
<line x1="595.20" y1="6.00" x2="673.50" y2="6.00" stroke="#999" stroke-width="1" />
<line x1="593.40" y1="64.30" x2="595.20" y2="64.30" stroke="#555" stroke-width="0.8" />
<text x="593.40" y="67.40" font-size="8.8" text-anchor="end" fill="#222" stroke="#222" stroke-width="0.22" >0</text>
<line x1="593.40" y1="53.72" x2="595.20" y2="53.72" stroke="#555" stroke-width="0.8" />
<text x="593.40" y="56.82" font-size="8.8" text-anchor="end" fill="#222" stroke="#222" stroke-width="0.22" >100</text>
<line x1="593.40" y1="43.14" x2="595.20" y2="43.14" stroke="#555" stroke-width="0.8" />
<text x="593.40" y="46.24" font-size="8.8" text-anchor="end" fill="#222" stroke="#222" stroke-width="0.22" >200</text>
<line x1="593.40" y1="32.56" x2="595.20" y2="32.56" stroke="#555" stroke-width="0.8" />
<text x="593.40" y="35.66" font-size="8.8" text-anchor="end" fill="#222" stroke="#222" stroke-width="0.22" >300</text>
<line x1="593.40" y1="21.98" x2="595.20" y2="21.98" stroke="#555" stroke-width="0.8" />
<text x="593.40" y="25.08" font-size="8.8" text-anchor="end" fill="#222" stroke="#222" stroke-width="0.22" >400</text>
<line x1="593.40" y1="11.40" x2="595.20" y2="11.40" stroke="#555" stroke-width="0.8" />
<text x="593.40" y="14.50" font-size="8.8" text-anchor="end" fill="#222" stroke="#222" stroke-width="0.22" >500</text>
<line x1="600.00" y1="69.70" x2="600.00" y2="71.50" stroke="#555" stroke-width="0.8" />
<text x="600.00" y="79.30" font-size="8.5" text-anchor="middle" fill="#222" stroke="#222" stroke-width="0.22" >0.0</text>
<line x1="616.96" y1="69.70" x2="616.96" y2="71.50" stroke="#555" stroke-width="0.8" />
<text x="616.96" y="79.30" font-size="8.5" text-anchor="middle" fill="#222" stroke="#222" stroke-width="0.22" >0.8</text>
<line x1="633.92" y1="69.70" x2="633.92" y2="71.50" stroke="#555" stroke-width="0.8" />
<text x="633.92" y="79.30" font-size="8.5" text-anchor="middle" fill="#222" stroke="#222" stroke-width="0.22" >1.6</text>
<line x1="650.88" y1="69.70" x2="650.88" y2="71.50" stroke="#555" stroke-width="0.8" />
<text x="650.88" y="79.30" font-size="8.5" text-anchor="middle" fill="#222" stroke="#222" stroke-width="0.22" >2.4</text>
<line x1="667.84" y1="69.70" x2="667.84" y2="71.50" stroke="#555" stroke-width="0.8" />
<text x="667.84" y="79.30" font-size="8.5" text-anchor="middle" fill="#222" stroke="#222" stroke-width="0.22" >3.2</text>
<line x1="600.00" y1="64.30" x2="667.42" y2="10.34" stroke="#000" stroke-width="0.9" />
<rect x="599.30" y="63.60" width="1.4" height="1.4" fill="#000"/>
<rect x="602.76" y="60.83" width="1.4" height="1.4" fill="#000"/>
<rect x="606.22" y="58.07" width="1.4" height="1.4" fill="#000"/>
<rect x="609.68" y="55.12" width="1.4" height="1.4" fill="#000"/>
<rect x="613.14" y="52.04" width="1.4" height="1.4" fill="#000"/>
<rect x="616.59" y="48.99" width="1.4" height="1.4" fill="#000"/>
<rect x="620.05" y="45.97" width="1.4" height="1.4" fill="#000"/>
<rect x="623.51" y="42.99" width="1.4" height="1.4" fill="#000"/>
<rect x="626.97" y="40.07" width="1.4" height="1.4" fill="#000"/>
<rect x="630.43" y="37.22" width="1.4" height="1.4" fill="#000"/>
<rect x="633.89" y="34.43" width="1.4" height="1.4" fill="#000"/>
<rect x="637.35" y="31.71" width="1.4" height="1.4" fill="#000"/>
<rect x="640.81" y="29.06" width="1.4" height="1.4" fill="#000"/>
<rect x="644.27" y="26.46" width="1.4" height="1.4" fill="#000"/>
<rect x="647.73" y="23.92" width="1.4" height="1.4" fill="#000"/>
<rect x="651.18" y="21.43" width="1.4" height="1.4" fill="#000"/>
<rect x="654.64" y="18.96" width="1.4" height="1.4" fill="#000"/>
<rect x="658.10" y="16.51" width="1.4" height="1.4" fill="#000"/>
<rect x="661.56" y="13.79" width="1.4" height="1.4" fill="#000"/>
<rect x="665.02" y="11.02" width="1.4" height="1.4" fill="#000"/>
<text x="634.30" y="89.20" font-size="8.5" font-weight="bold" text-anchor="middle" fill="#000" >-Ln(θ)</text>
<text transform="translate(571.30,38.40) rotate(-90)" x="0" y="0" font-size="8.7" font-weight="bold" text-anchor="middle" dominant-baseline="central" fill="#000">Time (s)</text>
<text x="596.8" y="15.8" font-size="10.3" stroke="#000" stroke-width="0.2"><tspan font-family="Liberation Serif" font-style="italic" font-size="11.5">τ</tspan> = 160.3</text>
<text x="596.8" y="27.6" font-size="10.3" stroke="#000" stroke-width="0.2">R<tspan font-size="7" dy="-3.6">2</tspan><tspan dy="3.6"> = 0.998</tspan></text>
<text x="0.00" y="207.60" font-size="13" font-weight="bold" text-anchor="start" fill="#000" >d</text>
<text x="11.40" y="211.00" font-size="10.5" text-anchor="start" fill="#000" stroke="#000" stroke-width="0.22" >26.5 °C</text>
<rect x="49.5" y="204" width="123.9" height="5.6" fill="url(#cbar)" stroke="#000" stroke-width="0.8"/>
<text x="178.00" y="211.00" font-size="10.5" text-anchor="start" fill="#000" stroke="#000" stroke-width="0.22" >60 °C</text>
<clipPath id="clip00"><rect x="17.4" y="213.6" width="29.4" height="61.8"/></clipPath>
<rect x="17.4" y="213.6" width="29.4" height="61.8" fill="#03004a"/>
<g clip-path="url(#clip00)"><path d="M19.9,249.6 C21.4,267.4 26.4,276.4 31.9,276.4 C37.4,276.4 42.4,267.4 43.9,249.6" fill="none" stroke="url(#ugrad)" stroke-width="6" filter="url(#blur2)"/>
<circle cx="32.7" cy="226.6" r="1.8" fill="#1848d0" opacity="0.45" filter="url(#blur1)"/></g>
<clipPath id="clip01"><rect x="17.4" y="278.9" width="29.4" height="61.1"/></clipPath>
<rect x="17.4" y="278.9" width="29.4" height="61.1" fill="#03004a"/>
<g clip-path="url(#clip01)"><ellipse cx="22.4" cy="308.9" rx="2.5" ry="10" fill="#1030a0" opacity="0.4" filter="url(#blur2)"/></g>
<clipPath id="clip10"><rect x="48.8" y="213.6" width="29.4" height="61.8"/></clipPath>
<rect x="48.8" y="213.6" width="29.4" height="61.8" fill="#03004a"/>
<g clip-path="url(#clip10)"><path d="M51.3,249.6 C52.8,267.4 57.8,276.4 63.3,276.4 C68.8,276.4 73.8,267.4 75.3,249.6" fill="none" stroke="url(#ugrad)" stroke-width="6" filter="url(#blur2)"/>
<circle cx="64.1" cy="240.6" r="1.8" fill="#1848d0" opacity="0.45" filter="url(#blur1)"/></g>
<clipPath id="clip11"><rect x="48.8" y="278.9" width="29.4" height="61.1"/></clipPath>
<rect x="48.8" y="278.9" width="29.4" height="61.1" fill="#03004a"/>
<g clip-path="url(#clip11)"><use href="#blobA" transform="translate(65.4,301.4)"/></g>
<clipPath id="clip20"><rect x="80.2" y="213.6" width="29.4" height="61.8"/></clipPath>
<rect x="80.2" y="213.6" width="29.4" height="61.8" fill="#03004a"/>
<g clip-path="url(#clip20)"><path d="M82.7,249.6 C84.2,267.4 89.2,276.4 94.7,276.4 C100.2,276.4 105.2,267.4 106.7,249.6" fill="none" stroke="url(#ugrad)" stroke-width="6" filter="url(#blur2)"/>
<circle cx="95.5" cy="233.6" r="1.8" fill="#1848d0" opacity="0.25" filter="url(#blur1)"/></g>
<clipPath id="clip21"><rect x="80.2" y="278.9" width="29.4" height="61.1"/></clipPath>
<rect x="80.2" y="278.9" width="29.4" height="61.1" fill="#03004a"/>
<g clip-path="url(#clip21)"><use href="#blob3" transform="translate(95.2,302.9)"/></g>
<clipPath id="clip30"><rect x="111.3" y="213.6" width="29.4" height="61.8"/></clipPath>
<rect x="111.3" y="213.6" width="29.4" height="61.8" fill="#03004a"/>
<g clip-path="url(#clip30)"><path d="M113.8,249.6 C115.3,267.4 120.3,276.4 125.8,276.4 C131.3,276.4 136.3,267.4 137.8,249.6" fill="none" stroke="url(#ugrad)" stroke-width="6" filter="url(#blur2)"/>
<circle cx="126.6" cy="233.6" r="1.8" fill="#1848d0" opacity="0.2" filter="url(#blur1)"/></g>
<clipPath id="clip31"><rect x="111.3" y="278.9" width="29.4" height="61.1"/></clipPath>
<rect x="111.3" y="278.9" width="29.4" height="61.1" fill="#03004a"/>
<g clip-path="url(#clip31)"><use href="#blob4" transform="translate(126.3,302.9)"/></g>
<clipPath id="clip40"><rect x="142.5" y="213.6" width="29.4" height="61.8"/></clipPath>
<rect x="142.5" y="213.6" width="29.4" height="61.8" fill="#03004a"/>
<g clip-path="url(#clip40)"><path d="M145.0,249.6 C146.5,267.4 151.5,276.4 157.0,276.4 C162.5,276.4 167.5,267.4 169.0,249.6" fill="none" stroke="url(#ugrad)" stroke-width="6" filter="url(#blur2)"/>
<circle cx="157.8" cy="233.6" r="1.8" fill="#1848d0" opacity="0.2" filter="url(#blur1)"/></g>
<clipPath id="clip41"><rect x="142.5" y="278.9" width="29.4" height="61.1"/></clipPath>
<rect x="142.5" y="278.9" width="29.4" height="61.1" fill="#03004a"/>
<g clip-path="url(#clip41)"><use href="#blob5" transform="translate(157.5,302.9)"/></g>
<clipPath id="clip50"><rect x="173.8" y="213.6" width="29.4" height="61.8"/></clipPath>
<rect x="173.8" y="213.6" width="29.4" height="61.8" fill="#03004a"/>
<g clip-path="url(#clip50)"><path d="M176.3,249.6 C177.8,267.4 182.8,276.4 188.3,276.4 C193.8,276.4 198.8,267.4 200.3,249.6" fill="none" stroke="url(#ugrad)" stroke-width="6" filter="url(#blur2)"/>
<circle cx="189.10000000000002" cy="233.6" r="1.8" fill="#1848d0" opacity="0.2" filter="url(#blur1)"/></g>
<clipPath id="clip51"><rect x="173.8" y="278.9" width="29.4" height="61.1"/></clipPath>
<rect x="173.8" y="278.9" width="29.4" height="61.1" fill="#03004a"/>
<g clip-path="url(#clip51)"><use href="#blob6" transform="translate(188.8,302.9)"/></g>
<text transform="translate(7.60,244.40) rotate(-90)" x="0" y="0" font-size="10.5" font-weight="bold" text-anchor="middle" dominant-baseline="central" fill="#000">H<tspan font-size="7" dy="2">2</tspan><tspan dy="-2">O</tspan></text>
<text transform="translate(8.20,309.00) rotate(-90)" x="0" y="0" font-size="10.5" font-weight="bold" text-anchor="middle" dominant-baseline="central" fill="#000">10@DSPE</text>
<text x="17.60" y="367.30" font-size="10" font-weight="bold" text-anchor="start" fill="#000" >0 min</text>
<line x1="56.00" y1="363.70" x2="155.00" y2="363.70" stroke="#000" stroke-width="1.1" />
<path d="M153.5,359.4 L162.5,363.7 L153.5,368 Z" fill="#000"/>
<text x="173.90" y="367.30" font-size="10" font-weight="bold" text-anchor="start" fill="#000" >5 min</text>
<text x="211.80" y="207.60" font-size="13" font-weight="bold" text-anchor="start" fill="#000" >e</text>
<polyline points="254.40,332.80 255.88,309.88 257.36,292.79 258.84,280.06 260.33,270.58 261.81,263.51 263.29,258.24 264.77,254.31 266.25,251.39 267.73,249.21 269.22,247.59 270.70,267.30 272.18,282.46 273.66,294.11 275.14,303.06 276.62,309.94 278.10,315.23 279.59,319.29 281.07,322.42 282.55,324.82 284.03,326.67 285.51,328.09 286.99,329.18 288.47,330.02 289.96,330.66 291.44,331.15 292.92,331.54 294.40,331.83 295.88,332.05 297.36,332.23 298.85,332.36 300.33,307.03 301.81,288.89 303.29,275.88 304.77,266.57 306.25,259.89 307.73,255.11 309.22,251.68 310.70,249.23 312.18,247.47 313.66,246.20 315.14,270.75 316.62,288.34 318.10,300.94 319.59,309.97 321.07,316.44 322.55,321.08 324.03,324.40 325.51,326.78 326.99,328.49 328.48,329.71 329.96,330.59 331.44,331.21 332.92,331.66 334.40,331.99 335.88,332.22 337.36,332.38 338.85,332.50 340.33,332.59 341.81,332.65 343.29,332.69 344.77,308.70 346.25,291.15 347.73,278.31 349.22,268.92 350.70,262.05 352.18,257.02 353.66,253.34 355.14,250.65 356.62,248.68 358.11,247.24 359.59,271.49 361.07,288.87 362.55,301.32 364.03,310.25 365.51,316.64 366.99,321.22 368.48,324.50 369.96,326.85 371.44,328.54 372.92,329.75 374.40,330.61 375.88,331.23 377.36,331.68 378.85,332.00 380.33,332.22 381.81,332.39 383.29,332.50 384.77,332.59 386.25,332.65 387.74,332.69 389.22,315.67 390.70,301.26 392.18,289.06 393.66,278.74 395.14,270.00 396.62,262.60 398.11,256.34 399.59,251.04 401.07,246.55 402.55,242.75 404.03,263.59 405.51,279.60 406.99,291.91 408.48,301.37 409.96,308.64 411.44,314.23 412.92,318.53 414.40,321.83 415.88,324.37 417.37,326.32 418.85,327.82 420.33,328.97 421.81,329.86 423.29,330.54 424.77,331.06 426.25,331.46 427.74,331.77 429.22,332.01 430.70,332.19 432.18,332.33" fill="none" stroke="#f41a22" stroke-width="1.1" stroke-linejoin="round" />
<circle cx="254.40" cy="332.80" r="1.75" fill="#f41a22" />
<circle cx="255.88" cy="309.88" r="1.75" fill="#f41a22" />
<circle cx="257.36" cy="292.79" r="1.75" fill="#f41a22" />
<circle cx="258.84" cy="280.06" r="1.75" fill="#f41a22" />
<circle cx="260.33" cy="270.58" r="1.75" fill="#f41a22" />
<circle cx="261.81" cy="263.51" r="1.75" fill="#f41a22" />
<circle cx="263.29" cy="258.24" r="1.75" fill="#f41a22" />
<circle cx="264.77" cy="254.31" r="1.75" fill="#f41a22" />
<circle cx="266.25" cy="251.39" r="1.75" fill="#f41a22" />
<circle cx="267.73" cy="249.21" r="1.75" fill="#f41a22" />
<circle cx="269.22" cy="247.59" r="1.75" fill="#f41a22" />
<circle cx="270.70" cy="267.30" r="1.75" fill="#f41a22" />
<circle cx="272.18" cy="282.46" r="1.75" fill="#f41a22" />
<circle cx="273.66" cy="294.11" r="1.75" fill="#f41a22" />
<circle cx="275.14" cy="303.06" r="1.75" fill="#f41a22" />
<circle cx="276.62" cy="309.94" r="1.75" fill="#f41a22" />
<circle cx="278.10" cy="315.23" r="1.75" fill="#f41a22" />
<circle cx="279.59" cy="319.29" r="1.75" fill="#f41a22" />
<circle cx="281.07" cy="322.42" r="1.75" fill="#f41a22" />
<circle cx="282.55" cy="324.82" r="1.75" fill="#f41a22" />
<circle cx="284.03" cy="326.67" r="1.75" fill="#f41a22" />
<circle cx="285.51" cy="328.09" r="1.75" fill="#f41a22" />
<circle cx="286.99" cy="329.18" r="1.75" fill="#f41a22" />
<circle cx="288.47" cy="330.02" r="1.75" fill="#f41a22" />
<circle cx="289.96" cy="330.66" r="1.75" fill="#f41a22" />
<circle cx="291.44" cy="331.15" r="1.75" fill="#f41a22" />
<circle cx="292.92" cy="331.54" r="1.75" fill="#f41a22" />
<circle cx="294.40" cy="331.83" r="1.75" fill="#f41a22" />
<circle cx="295.88" cy="332.05" r="1.75" fill="#f41a22" />
<circle cx="297.36" cy="332.23" r="1.75" fill="#f41a22" />
<circle cx="298.85" cy="332.36" r="1.75" fill="#f41a22" />
<circle cx="300.33" cy="307.03" r="1.75" fill="#f41a22" />
<circle cx="301.81" cy="288.89" r="1.75" fill="#f41a22" />
<circle cx="303.29" cy="275.88" r="1.75" fill="#f41a22" />
<circle cx="304.77" cy="266.57" r="1.75" fill="#f41a22" />
<circle cx="306.25" cy="259.89" r="1.75" fill="#f41a22" />
<circle cx="307.73" cy="255.11" r="1.75" fill="#f41a22" />
<circle cx="309.22" cy="251.68" r="1.75" fill="#f41a22" />
<circle cx="310.70" cy="249.23" r="1.75" fill="#f41a22" />
<circle cx="312.18" cy="247.47" r="1.75" fill="#f41a22" />
<circle cx="313.66" cy="246.20" r="1.75" fill="#f41a22" />
<circle cx="315.14" cy="270.75" r="1.75" fill="#f41a22" />
<circle cx="316.62" cy="288.34" r="1.75" fill="#f41a22" />
<circle cx="318.10" cy="300.94" r="1.75" fill="#f41a22" />
<circle cx="319.59" cy="309.97" r="1.75" fill="#f41a22" />
<circle cx="321.07" cy="316.44" r="1.75" fill="#f41a22" />
<circle cx="322.55" cy="321.08" r="1.75" fill="#f41a22" />
<circle cx="324.03" cy="324.40" r="1.75" fill="#f41a22" />
<circle cx="325.51" cy="326.78" r="1.75" fill="#f41a22" />
<circle cx="326.99" cy="328.49" r="1.75" fill="#f41a22" />
<circle cx="328.48" cy="329.71" r="1.75" fill="#f41a22" />
<circle cx="329.96" cy="330.59" r="1.75" fill="#f41a22" />
<circle cx="331.44" cy="331.21" r="1.75" fill="#f41a22" />
<circle cx="332.92" cy="331.66" r="1.75" fill="#f41a22" />
<circle cx="334.40" cy="331.99" r="1.75" fill="#f41a22" />
<circle cx="335.88" cy="332.22" r="1.75" fill="#f41a22" />
<circle cx="337.36" cy="332.38" r="1.75" fill="#f41a22" />
<circle cx="338.85" cy="332.50" r="1.75" fill="#f41a22" />
<circle cx="340.33" cy="332.59" r="1.75" fill="#f41a22" />
<circle cx="341.81" cy="332.65" r="1.75" fill="#f41a22" />
<circle cx="343.29" cy="332.69" r="1.75" fill="#f41a22" />
<circle cx="344.77" cy="308.70" r="1.75" fill="#f41a22" />
<circle cx="346.25" cy="291.15" r="1.75" fill="#f41a22" />
<circle cx="347.73" cy="278.31" r="1.75" fill="#f41a22" />
<circle cx="349.22" cy="268.92" r="1.75" fill="#f41a22" />
<circle cx="350.70" cy="262.05" r="1.75" fill="#f41a22" />
<circle cx="352.18" cy="257.02" r="1.75" fill="#f41a22" />
<circle cx="353.66" cy="253.34" r="1.75" fill="#f41a22" />
<circle cx="355.14" cy="250.65" r="1.75" fill="#f41a22" />
<circle cx="356.62" cy="248.68" r="1.75" fill="#f41a22" />
<circle cx="358.11" cy="247.24" r="1.75" fill="#f41a22" />
<circle cx="359.59" cy="271.49" r="1.75" fill="#f41a22" />
<circle cx="361.07" cy="288.87" r="1.75" fill="#f41a22" />
<circle cx="362.55" cy="301.32" r="1.75" fill="#f41a22" />
<circle cx="364.03" cy="310.25" r="1.75" fill="#f41a22" />
<circle cx="365.51" cy="316.64" r="1.75" fill="#f41a22" />
<circle cx="366.99" cy="321.22" r="1.75" fill="#f41a22" />
<circle cx="368.48" cy="324.50" r="1.75" fill="#f41a22" />
<circle cx="369.96" cy="326.85" r="1.75" fill="#f41a22" />
<circle cx="371.44" cy="328.54" r="1.75" fill="#f41a22" />
<circle cx="372.92" cy="329.75" r="1.75" fill="#f41a22" />
<circle cx="374.40" cy="330.61" r="1.75" fill="#f41a22" />
<circle cx="375.88" cy="331.23" r="1.75" fill="#f41a22" />
<circle cx="377.36" cy="331.68" r="1.75" fill="#f41a22" />
<circle cx="378.85" cy="332.00" r="1.75" fill="#f41a22" />
<circle cx="380.33" cy="332.22" r="1.75" fill="#f41a22" />
<circle cx="381.81" cy="332.39" r="1.75" fill="#f41a22" />
<circle cx="383.29" cy="332.50" r="1.75" fill="#f41a22" />
<circle cx="384.77" cy="332.59" r="1.75" fill="#f41a22" />
<circle cx="386.25" cy="332.65" r="1.75" fill="#f41a22" />
<circle cx="387.74" cy="332.69" r="1.75" fill="#f41a22" />
<circle cx="389.22" cy="315.67" r="1.75" fill="#f41a22" />
<circle cx="390.70" cy="301.26" r="1.75" fill="#f41a22" />
<circle cx="392.18" cy="289.06" r="1.75" fill="#f41a22" />
<circle cx="393.66" cy="278.74" r="1.75" fill="#f41a22" />
<circle cx="395.14" cy="270.00" r="1.75" fill="#f41a22" />
<circle cx="396.62" cy="262.60" r="1.75" fill="#f41a22" />
<circle cx="398.11" cy="256.34" r="1.75" fill="#f41a22" />
<circle cx="399.59" cy="251.04" r="1.75" fill="#f41a22" />
<circle cx="401.07" cy="246.55" r="1.75" fill="#f41a22" />
<circle cx="402.55" cy="242.75" r="1.75" fill="#f41a22" />
<circle cx="404.03" cy="263.59" r="1.75" fill="#f41a22" />
<circle cx="405.51" cy="279.60" r="1.75" fill="#f41a22" />
<circle cx="406.99" cy="291.91" r="1.75" fill="#f41a22" />
<circle cx="408.48" cy="301.37" r="1.75" fill="#f41a22" />
<circle cx="409.96" cy="308.64" r="1.75" fill="#f41a22" />
<circle cx="411.44" cy="314.23" r="1.75" fill="#f41a22" />
<circle cx="412.92" cy="318.53" r="1.75" fill="#f41a22" />
<circle cx="414.40" cy="321.83" r="1.75" fill="#f41a22" />
<circle cx="415.88" cy="324.37" r="1.75" fill="#f41a22" />
<circle cx="417.37" cy="326.32" r="1.75" fill="#f41a22" />
<circle cx="418.85" cy="327.82" r="1.75" fill="#f41a22" />
<circle cx="420.33" cy="328.97" r="1.75" fill="#f41a22" />
<circle cx="421.81" cy="329.86" r="1.75" fill="#f41a22" />
<circle cx="423.29" cy="330.54" r="1.75" fill="#f41a22" />
<circle cx="424.77" cy="331.06" r="1.75" fill="#f41a22" />
<circle cx="426.25" cy="331.46" r="1.75" fill="#f41a22" />
<circle cx="427.74" cy="331.77" r="1.75" fill="#f41a22" />
<circle cx="429.22" cy="332.01" r="1.75" fill="#f41a22" />
<circle cx="430.70" cy="332.19" r="1.75" fill="#f41a22" />
<circle cx="432.18" cy="332.33" r="1.75" fill="#f41a22" />
<polyline points="254.40,332.80 255.88,297.52 257.36,275.12 258.84,260.91 260.33,251.89 261.81,246.16 263.29,242.53 264.77,240.22 266.25,238.75 267.73,237.83 269.22,237.24 270.70,257.92 272.18,274.13 273.66,286.82 275.14,296.78 276.62,304.57 278.10,310.68 279.59,315.47 281.07,319.22 282.55,322.16 284.03,324.46 285.51,326.27 286.99,327.68 288.47,328.79 289.96,329.66 291.44,330.34 292.92,330.87 294.40,331.29 295.88,331.62 297.36,331.87 298.85,332.07 300.33,302.48 301.81,282.34 303.29,268.63 304.77,259.29 306.25,252.94 307.73,248.62 309.22,245.67 310.70,243.67 312.18,242.30 313.66,241.38 315.14,258.90 316.62,273.06 318.10,284.51 319.59,293.77 321.07,301.25 322.55,307.29 324.03,312.18 325.51,316.13 326.99,319.33 328.48,321.91 329.96,324.00 331.44,325.68 332.92,327.05 334.40,328.15 335.88,329.04 337.36,329.76 338.85,330.34 340.33,330.81 341.81,331.20 343.29,331.50 344.77,305.25 346.25,287.38 347.73,275.21 349.22,266.93 350.70,261.30 352.18,257.46 353.66,254.85 355.14,253.07 356.62,251.86 358.11,251.04 359.59,266.41 361.07,278.90 362.55,289.03 364.03,297.27 365.51,303.95 366.99,309.37 368.48,313.78 369.96,317.36 371.44,320.26 372.92,322.62 374.40,324.53 375.88,326.09 377.36,327.35 378.85,328.38 380.33,329.21 381.81,329.88 383.29,330.43 384.77,330.88 386.25,331.24 387.74,331.53 389.22,310.50 390.70,295.78 392.18,285.48 393.66,278.27 395.14,273.23 396.62,269.70 398.11,267.24 399.59,265.51 401.07,264.30 402.55,263.45 404.03,278.15 405.51,289.73 406.99,298.85 408.48,306.05 409.96,311.71 411.44,316.18 412.92,319.70 414.40,322.48 415.88,324.66 417.37,326.39 418.85,327.75 420.33,328.82 421.81,329.66 423.29,330.33 424.77,330.85 426.25,331.26 427.74,331.59 429.22,331.85 430.70,332.05 432.18,332.21" fill="none" stroke="#1a66b4" stroke-width="1.1" stroke-linejoin="round" />
<circle cx="254.40" cy="332.80" r="1.75" fill="#1a66b4" />
<circle cx="255.88" cy="297.52" r="1.75" fill="#1a66b4" />
<circle cx="257.36" cy="275.12" r="1.75" fill="#1a66b4" />
<circle cx="258.84" cy="260.91" r="1.75" fill="#1a66b4" />
<circle cx="260.33" cy="251.89" r="1.75" fill="#1a66b4" />
<circle cx="261.81" cy="246.16" r="1.75" fill="#1a66b4" />
<circle cx="263.29" cy="242.53" r="1.75" fill="#1a66b4" />
<circle cx="264.77" cy="240.22" r="1.75" fill="#1a66b4" />
<circle cx="266.25" cy="238.75" r="1.75" fill="#1a66b4" />
<circle cx="267.73" cy="237.83" r="1.75" fill="#1a66b4" />
<circle cx="269.22" cy="237.24" r="1.75" fill="#1a66b4" />
<circle cx="270.70" cy="257.92" r="1.75" fill="#1a66b4" />
<circle cx="272.18" cy="274.13" r="1.75" fill="#1a66b4" />
<circle cx="273.66" cy="286.82" r="1.75" fill="#1a66b4" />
<circle cx="275.14" cy="296.78" r="1.75" fill="#1a66b4" />
<circle cx="276.62" cy="304.57" r="1.75" fill="#1a66b4" />
<circle cx="278.10" cy="310.68" r="1.75" fill="#1a66b4" />
<circle cx="279.59" cy="315.47" r="1.75" fill="#1a66b4" />
<circle cx="281.07" cy="319.22" r="1.75" fill="#1a66b4" />
<circle cx="282.55" cy="322.16" r="1.75" fill="#1a66b4" />
<circle cx="284.03" cy="324.46" r="1.75" fill="#1a66b4" />
<circle cx="285.51" cy="326.27" r="1.75" fill="#1a66b4" />
<circle cx="286.99" cy="327.68" r="1.75" fill="#1a66b4" />
<circle cx="288.47" cy="328.79" r="1.75" fill="#1a66b4" />
<circle cx="289.96" cy="329.66" r="1.75" fill="#1a66b4" />
<circle cx="291.44" cy="330.34" r="1.75" fill="#1a66b4" />
<circle cx="292.92" cy="330.87" r="1.75" fill="#1a66b4" />
<circle cx="294.40" cy="331.29" r="1.75" fill="#1a66b4" />
<circle cx="295.88" cy="331.62" r="1.75" fill="#1a66b4" />
<circle cx="297.36" cy="331.87" r="1.75" fill="#1a66b4" />
<circle cx="298.85" cy="332.07" r="1.75" fill="#1a66b4" />
<circle cx="300.33" cy="302.48" r="1.75" fill="#1a66b4" />
<circle cx="301.81" cy="282.34" r="1.75" fill="#1a66b4" />
<circle cx="303.29" cy="268.63" r="1.75" fill="#1a66b4" />
<circle cx="304.77" cy="259.29" r="1.75" fill="#1a66b4" />
<circle cx="306.25" cy="252.94" r="1.75" fill="#1a66b4" />
<circle cx="307.73" cy="248.62" r="1.75" fill="#1a66b4" />
<circle cx="309.22" cy="245.67" r="1.75" fill="#1a66b4" />
<circle cx="310.70" cy="243.67" r="1.75" fill="#1a66b4" />
<circle cx="312.18" cy="242.30" r="1.75" fill="#1a66b4" />
<circle cx="313.66" cy="241.38" r="1.75" fill="#1a66b4" />
<circle cx="315.14" cy="258.90" r="1.75" fill="#1a66b4" />
<circle cx="316.62" cy="273.06" r="1.75" fill="#1a66b4" />
<circle cx="318.10" cy="284.51" r="1.75" fill="#1a66b4" />
<circle cx="319.59" cy="293.77" r="1.75" fill="#1a66b4" />
<circle cx="321.07" cy="301.25" r="1.75" fill="#1a66b4" />
<circle cx="322.55" cy="307.29" r="1.75" fill="#1a66b4" />
<circle cx="324.03" cy="312.18" r="1.75" fill="#1a66b4" />
<circle cx="325.51" cy="316.13" r="1.75" fill="#1a66b4" />
<circle cx="326.99" cy="319.33" r="1.75" fill="#1a66b4" />
<circle cx="328.48" cy="321.91" r="1.75" fill="#1a66b4" />
<circle cx="329.96" cy="324.00" r="1.75" fill="#1a66b4" />
<circle cx="331.44" cy="325.68" r="1.75" fill="#1a66b4" />
<circle cx="332.92" cy="327.05" r="1.75" fill="#1a66b4" />
<circle cx="334.40" cy="328.15" r="1.75" fill="#1a66b4" />
<circle cx="335.88" cy="329.04" r="1.75" fill="#1a66b4" />
<circle cx="337.36" cy="329.76" r="1.75" fill="#1a66b4" />
<circle cx="338.85" cy="330.34" r="1.75" fill="#1a66b4" />
<circle cx="340.33" cy="330.81" r="1.75" fill="#1a66b4" />
<circle cx="341.81" cy="331.20" r="1.75" fill="#1a66b4" />
<circle cx="343.29" cy="331.50" r="1.75" fill="#1a66b4" />
<circle cx="344.77" cy="305.25" r="1.75" fill="#1a66b4" />
<circle cx="346.25" cy="287.38" r="1.75" fill="#1a66b4" />
<circle cx="347.73" cy="275.21" r="1.75" fill="#1a66b4" />
<circle cx="349.22" cy="266.93" r="1.75" fill="#1a66b4" />
<circle cx="350.70" cy="261.30" r="1.75" fill="#1a66b4" />
<circle cx="352.18" cy="257.46" r="1.75" fill="#1a66b4" />
<circle cx="353.66" cy="254.85" r="1.75" fill="#1a66b4" />
<circle cx="355.14" cy="253.07" r="1.75" fill="#1a66b4" />
<circle cx="356.62" cy="251.86" r="1.75" fill="#1a66b4" />
<circle cx="358.11" cy="251.04" r="1.75" fill="#1a66b4" />
<circle cx="359.59" cy="266.41" r="1.75" fill="#1a66b4" />
<circle cx="361.07" cy="278.90" r="1.75" fill="#1a66b4" />
<circle cx="362.55" cy="289.03" r="1.75" fill="#1a66b4" />
<circle cx="364.03" cy="297.27" r="1.75" fill="#1a66b4" />
<circle cx="365.51" cy="303.95" r="1.75" fill="#1a66b4" />
<circle cx="366.99" cy="309.37" r="1.75" fill="#1a66b4" />
<circle cx="368.48" cy="313.78" r="1.75" fill="#1a66b4" />
<circle cx="369.96" cy="317.36" r="1.75" fill="#1a66b4" />
<circle cx="371.44" cy="320.26" r="1.75" fill="#1a66b4" />
<circle cx="372.92" cy="322.62" r="1.75" fill="#1a66b4" />
<circle cx="374.40" cy="324.53" r="1.75" fill="#1a66b4" />
<circle cx="375.88" cy="326.09" r="1.75" fill="#1a66b4" />
<circle cx="377.36" cy="327.35" r="1.75" fill="#1a66b4" />
<circle cx="378.85" cy="328.38" r="1.75" fill="#1a66b4" />
<circle cx="380.33" cy="329.21" r="1.75" fill="#1a66b4" />
<circle cx="381.81" cy="329.88" r="1.75" fill="#1a66b4" />
<circle cx="383.29" cy="330.43" r="1.75" fill="#1a66b4" />
<circle cx="384.77" cy="330.88" r="1.75" fill="#1a66b4" />
<circle cx="386.25" cy="331.24" r="1.75" fill="#1a66b4" />
<circle cx="387.74" cy="331.53" r="1.75" fill="#1a66b4" />
<circle cx="389.22" cy="310.50" r="1.75" fill="#1a66b4" />
<circle cx="390.70" cy="295.78" r="1.75" fill="#1a66b4" />
<circle cx="392.18" cy="285.48" r="1.75" fill="#1a66b4" />
<circle cx="393.66" cy="278.27" r="1.75" fill="#1a66b4" />
<circle cx="395.14" cy="273.23" r="1.75" fill="#1a66b4" />
<circle cx="396.62" cy="269.70" r="1.75" fill="#1a66b4" />
<circle cx="398.11" cy="267.24" r="1.75" fill="#1a66b4" />
<circle cx="399.59" cy="265.51" r="1.75" fill="#1a66b4" />
<circle cx="401.07" cy="264.30" r="1.75" fill="#1a66b4" />
<circle cx="402.55" cy="263.45" r="1.75" fill="#1a66b4" />
<circle cx="404.03" cy="278.15" r="1.75" fill="#1a66b4" />
<circle cx="405.51" cy="289.73" r="1.75" fill="#1a66b4" />
<circle cx="406.99" cy="298.85" r="1.75" fill="#1a66b4" />
<circle cx="408.48" cy="306.05" r="1.75" fill="#1a66b4" />
<circle cx="409.96" cy="311.71" r="1.75" fill="#1a66b4" />
<circle cx="411.44" cy="316.18" r="1.75" fill="#1a66b4" />
<circle cx="412.92" cy="319.70" r="1.75" fill="#1a66b4" />
<circle cx="414.40" cy="322.48" r="1.75" fill="#1a66b4" />
<circle cx="415.88" cy="324.66" r="1.75" fill="#1a66b4" />
<circle cx="417.37" cy="326.39" r="1.75" fill="#1a66b4" />
<circle cx="418.85" cy="327.75" r="1.75" fill="#1a66b4" />
<circle cx="420.33" cy="328.82" r="1.75" fill="#1a66b4" />
<circle cx="421.81" cy="329.66" r="1.75" fill="#1a66b4" />
<circle cx="423.29" cy="330.33" r="1.75" fill="#1a66b4" />
<circle cx="424.77" cy="330.85" r="1.75" fill="#1a66b4" />
<circle cx="426.25" cy="331.26" r="1.75" fill="#1a66b4" />
<circle cx="427.74" cy="331.59" r="1.75" fill="#1a66b4" />
<circle cx="429.22" cy="331.85" r="1.75" fill="#1a66b4" />
<circle cx="430.70" cy="332.05" r="1.75" fill="#1a66b4" />
<circle cx="432.18" cy="332.21" r="1.75" fill="#1a66b4" />
<line x1="239.60" y1="211.80" x2="239.60" y2="341.50" stroke="#333" stroke-width="1.1" />
<line x1="239.60" y1="341.50" x2="435.80" y2="341.50" stroke="#333" stroke-width="1.1" />
<line x1="435.80" y1="211.80" x2="435.80" y2="341.50" stroke="#333" stroke-width="1.1" />
<line x1="239.60" y1="211.80" x2="435.80" y2="211.80" stroke="#888" stroke-width="1.1" />
<line x1="237.40" y1="332.80" x2="239.60" y2="332.80" stroke="#333" stroke-width="1" />
<text x="235.60" y="336.40" font-size="10.5" text-anchor="end" fill="#000" stroke="#000" stroke-width="0.22" >0</text>
<line x1="238.30" y1="315.55" x2="239.60" y2="315.55" stroke="#333" stroke-width="0.8" />
<line x1="237.40" y1="298.30" x2="239.60" y2="298.30" stroke="#333" stroke-width="1" />
<text x="235.60" y="301.90" font-size="10.5" text-anchor="end" fill="#000" stroke="#000" stroke-width="0.22" >10</text>
<line x1="238.30" y1="281.05" x2="239.60" y2="281.05" stroke="#333" stroke-width="0.8" />
<line x1="237.40" y1="263.80" x2="239.60" y2="263.80" stroke="#333" stroke-width="1" />
<text x="235.60" y="267.40" font-size="10.5" text-anchor="end" fill="#000" stroke="#000" stroke-width="0.22" >20</text>
<line x1="238.30" y1="246.55" x2="239.60" y2="246.55" stroke="#333" stroke-width="0.8" />
<line x1="237.40" y1="229.30" x2="239.60" y2="229.30" stroke="#333" stroke-width="1" />
<text x="235.60" y="232.90" font-size="10.5" text-anchor="end" fill="#000" stroke="#000" stroke-width="0.22" >30</text>
<line x1="238.30" y1="212.05" x2="239.60" y2="212.05" stroke="#333" stroke-width="0.8" />
<line x1="254.40" y1="341.50" x2="254.40" y2="343.70" stroke="#333" stroke-width="1" />
<text x="254.40" y="354.30" font-size="10.5" text-anchor="middle" fill="#000" stroke="#000" stroke-width="0.22" >0</text>
<line x1="276.62" y1="341.50" x2="276.62" y2="342.80" stroke="#333" stroke-width="0.8" />
<line x1="298.85" y1="341.50" x2="298.85" y2="343.70" stroke="#333" stroke-width="1" />
<text x="298.85" y="354.30" font-size="10.5" text-anchor="middle" fill="#000" stroke="#000" stroke-width="0.22" >15</text>
<line x1="321.07" y1="341.50" x2="321.07" y2="342.80" stroke="#333" stroke-width="0.8" />
<line x1="343.29" y1="341.50" x2="343.29" y2="343.70" stroke="#333" stroke-width="1" />
<text x="343.29" y="354.30" font-size="10.5" text-anchor="middle" fill="#000" stroke="#000" stroke-width="0.22" >30</text>
<line x1="365.51" y1="341.50" x2="365.51" y2="342.80" stroke="#333" stroke-width="0.8" />
<line x1="387.74" y1="341.50" x2="387.74" y2="343.70" stroke="#333" stroke-width="1" />
<text x="387.74" y="354.30" font-size="10.5" text-anchor="middle" fill="#000" stroke="#000" stroke-width="0.22" >45</text>
<line x1="409.96" y1="341.50" x2="409.96" y2="342.80" stroke="#333" stroke-width="0.8" />
<line x1="432.18" y1="341.50" x2="432.18" y2="343.70" stroke="#333" stroke-width="1" />
<text x="432.18" y="354.30" font-size="10.5" text-anchor="middle" fill="#000" stroke="#000" stroke-width="0.22" >60</text>
<text x="335.40" y="367.60" font-size="10.8" font-weight="bold" text-anchor="middle" fill="#000" >Time (min)</text>
<text transform="translate(216.40,276.00) rotate(-90)" x="0" y="0" font-size="10.9" font-weight="bold" text-anchor="middle" dominant-baseline="central" fill="#000">ΔT (°C)</text>
<text x="242.00" y="223.00" font-size="10.5" text-anchor="start" fill="#000" stroke="#000" stroke-width="0.22" >808 nm laser</text>
<line x1="304.00" y1="219.90" x2="327.00" y2="219.90" stroke="#f41a22" stroke-width="1.1" />
<circle cx="315.60" cy="219.90" r="1.45" fill="#f41a22" />
<text x="330.90" y="223.00" font-size="10.5" font-weight="bold" text-anchor="start" fill="#000" >10@DSPE</text>
<line x1="388.20" y1="220.00" x2="411.20" y2="220.00" stroke="#1a66b4" stroke-width="1.1" />
<circle cx="399.90" cy="220.00" r="1.45" fill="#1a66b4" />
<text x="414.70" y="223.00" font-size="10.5" font-weight="bold" text-anchor="start" fill="#000" >ICG</text>
<text x="446.00" y="207.60" font-size="13" font-weight="bold" text-anchor="start" fill="#000" >f</text>
<line x1="484.60" y1="324.43" x2="591.40" y2="217.03" stroke="#f03030" stroke-width="1.1" />
<line x1="484.60" y1="330.25" x2="591.40" y2="300.88" stroke="#1f6aa5" stroke-width="1.1" />
<circle cx="484.60" cy="329.35" r="2.2" fill="#ee1c25" />
<circle cx="511.30" cy="290.53" r="2.2" fill="#ee1c25" />
<circle cx="538.00" cy="267.24" r="2.2" fill="#ee1c25" />
<circle cx="564.70" cy="254.30" r="2.2" fill="#ee1c25" />
<circle cx="591.40" cy="213.53" r="2.2" fill="#ee1c25" />
<circle cx="484.60" cy="330.64" r="2.2" fill="#1f6aa5" />
<circle cx="511.30" cy="321.58" r="2.2" fill="#1f6aa5" />
<circle cx="538.00" cy="314.47" r="2.2" fill="#1f6aa5" />
<circle cx="564.70" cy="310.58" r="2.2" fill="#1f6aa5" />
<circle cx="591.40" cy="300.23" r="2.2" fill="#1f6aa5" />
<line x1="479.50" y1="210.30" x2="479.50" y2="339.70" stroke="#333" stroke-width="1.1" />
<line x1="479.50" y1="339.70" x2="596.50" y2="339.70" stroke="#333" stroke-width="1.1" />
<line x1="596.50" y1="210.30" x2="596.50" y2="339.70" stroke="#333" stroke-width="1.1" />
<line x1="479.50" y1="210.30" x2="596.50" y2="210.30" stroke="#888" stroke-width="1.1" />
<line x1="477.30" y1="339.70" x2="479.50" y2="339.70" stroke="#333" stroke-width="1" />
<text x="475.50" y="343.30" font-size="10.5" text-anchor="end" fill="#000" stroke="#000" stroke-width="0.22" >0.0</text>
<line x1="478.20" y1="326.85" x2="479.50" y2="326.85" stroke="#333" stroke-width="0.8" />
<line x1="477.30" y1="313.82" x2="479.50" y2="313.82" stroke="#333" stroke-width="1" />
<text x="475.50" y="317.42" font-size="10.5" text-anchor="end" fill="#000" stroke="#000" stroke-width="0.22" >0.2</text>
<line x1="478.20" y1="300.97" x2="479.50" y2="300.97" stroke="#333" stroke-width="0.8" />
<line x1="477.30" y1="287.94" x2="479.50" y2="287.94" stroke="#333" stroke-width="1" />
<text x="475.50" y="291.54" font-size="10.5" text-anchor="end" fill="#000" stroke="#000" stroke-width="0.22" >0.4</text>
<line x1="478.20" y1="275.09" x2="479.50" y2="275.09" stroke="#333" stroke-width="0.8" />
<line x1="477.30" y1="262.06" x2="479.50" y2="262.06" stroke="#333" stroke-width="1" />
<text x="475.50" y="265.66" font-size="10.5" text-anchor="end" fill="#000" stroke="#000" stroke-width="0.22" >0.6</text>
<line x1="478.20" y1="249.21" x2="479.50" y2="249.21" stroke="#333" stroke-width="0.8" />
<line x1="477.30" y1="236.18" x2="479.50" y2="236.18" stroke="#333" stroke-width="1" />
<text x="475.50" y="239.78" font-size="10.5" text-anchor="end" fill="#000" stroke="#000" stroke-width="0.22" >0.8</text>
<line x1="478.20" y1="223.33" x2="479.50" y2="223.33" stroke="#333" stroke-width="0.8" />
<line x1="477.30" y1="210.30" x2="479.50" y2="210.30" stroke="#333" stroke-width="1" />
<text x="475.50" y="213.90" font-size="10.5" text-anchor="end" fill="#000" stroke="#000" stroke-width="0.22" >1.0</text>
<line x1="484.60" y1="339.70" x2="484.60" y2="341.90" stroke="#333" stroke-width="1" />
<text x="484.60" y="352.80" font-size="10.5" text-anchor="middle" fill="#000" stroke="#000" stroke-width="0.22" >0</text>
<line x1="497.95" y1="339.70" x2="497.95" y2="341.00" stroke="#333" stroke-width="0.8" />
<line x1="511.30" y1="339.70" x2="511.30" y2="341.90" stroke="#333" stroke-width="1" />
<text x="511.30" y="352.80" font-size="10.5" text-anchor="middle" fill="#000" stroke="#000" stroke-width="0.22" >50</text>
<line x1="524.65" y1="339.70" x2="524.65" y2="341.00" stroke="#333" stroke-width="0.8" />
<line x1="538.00" y1="339.70" x2="538.00" y2="341.90" stroke="#333" stroke-width="1" />
<text x="538.00" y="352.80" font-size="10.5" text-anchor="middle" fill="#000" stroke="#000" stroke-width="0.22" >100</text>
<line x1="551.35" y1="339.70" x2="551.35" y2="341.00" stroke="#333" stroke-width="0.8" />
<line x1="564.70" y1="339.70" x2="564.70" y2="341.90" stroke="#333" stroke-width="1" />
<text x="564.70" y="352.80" font-size="10.5" text-anchor="middle" fill="#000" stroke="#000" stroke-width="0.22" >150</text>
<line x1="578.05" y1="339.70" x2="578.05" y2="341.00" stroke="#333" stroke-width="0.8" />
<line x1="591.40" y1="339.70" x2="591.40" y2="341.90" stroke="#333" stroke-width="1" />
<text x="591.40" y="352.80" font-size="10.5" text-anchor="middle" fill="#000" stroke="#000" stroke-width="0.22" >200</text>
<text x="537.60" y="366.60" font-size="10.9" font-weight="bold" text-anchor="middle" fill="#000" >Concentration (μM)</text>
<text transform="translate(451.60,274.50) rotate(-90)" x="0" y="0" font-size="11.15" font-weight="bold" text-anchor="middle" dominant-baseline="central" fill="#000">PA amplitude (arb. units)</text>
<circle cx="485.40" cy="216.20" r="2.1" fill="#ee1c25" />
<text x="496.80" y="220.00" font-size="10.5" text-anchor="start" fill="#000" stroke="#000" stroke-width="0.22" >680 nm</text>
<circle cx="485.40" cy="229.20" r="2.1" fill="#1f6aa5" />
<text x="496.80" y="233.00" font-size="10.5" text-anchor="start" fill="#000" stroke="#000" stroke-width="0.22" >808 nm</text>
<text x="633.00" y="215.00" font-size="9.8" font-weight="bold" text-anchor="middle" fill="#000" >PAI</text>
<line x1="599.40" y1="218.30" x2="665.50" y2="218.30" stroke="#444" stroke-width="0.9" />
<text x="599.00" y="228.40" font-size="9.6" text-anchor="start" fill="#000" stroke="#000" stroke-width="0.22" >680 nm</text>
<text x="634.50" y="228.40" font-size="9.6" text-anchor="start" fill="#000" stroke="#000" stroke-width="0.22" >808 nm</text>
<text x="669.00" y="228.40" font-size="9.6" font-weight="bold" text-anchor="start" fill="#000" >μM</text>
<text x="676.80" y="244.80" font-size="9.6" text-anchor="middle" fill="#000" stroke="#000" stroke-width="0.22" >0</text>
<ellipse cx="615.2" cy="240.9" rx="11.4" ry="11.0" fill="#000" filter="url(#blur03)"/>
<g filter="url(#blur1b)"><ellipse cx="619.6" cy="234.6" rx="0.95" ry="0.72" fill="#500000"/></g>
<ellipse cx="650.6" cy="240.9" rx="11.4" ry="11.0" fill="#000" filter="url(#blur03)"/>
<g filter="url(#blur1b)"><ellipse cx="653.2" cy="237.8" rx="1.47" ry="0.87" fill="#600000"/></g>
<text x="676.80" y="270.00" font-size="9.6" text-anchor="middle" fill="#000" stroke="#000" stroke-width="0.22" >50</text>
<ellipse cx="615.2" cy="266.1" rx="11.4" ry="11.0" fill="#000" filter="url(#blur03)"/>
<g filter="url(#blur1b)"><ellipse cx="615.2" cy="263.9" rx="5.25" ry="1.45" fill="#ee0000"/><ellipse cx="615.8" cy="270.2" rx="6.83" ry="1.74" fill="#ff0000"/></g>
<ellipse cx="650.6" cy="266.1" rx="11.4" ry="11.0" fill="#000" filter="url(#blur03)"/>
<g filter="url(#blur1b)"><ellipse cx="650.5" cy="262.4" rx="2.62" ry="1.01" fill="#700000"/><ellipse cx="650.3" cy="269.6" rx="4.62" ry="1.30" fill="#b80000"/></g>
<text x="676.80" y="295.00" font-size="9.6" text-anchor="middle" fill="#000" stroke="#000" stroke-width="0.22" >100</text>
<ellipse cx="615.2" cy="291.1" rx="11.4" ry="11.0" fill="#000" filter="url(#blur03)"/>
<g filter="url(#blur1b)"><ellipse cx="615.5" cy="288.2" rx="5.78" ry="1.59" fill="#ff0000"/><ellipse cx="615.7" cy="295.0" rx="7.56" ry="1.89" fill="#ff0000"/></g>
<ellipse cx="650.6" cy="291.1" rx="11.4" ry="11.0" fill="#000" filter="url(#blur03)"/>
<g filter="url(#blur1b)"><ellipse cx="650.5" cy="288.2" rx="3.68" ry="1.16" fill="#900000"/><ellipse cx="650.5" cy="295.2" rx="5.78" ry="1.45" fill="#d00000"/></g>
<text x="676.80" y="319.40" font-size="9.6" text-anchor="middle" fill="#000" stroke="#000" stroke-width="0.22" >150</text>
<ellipse cx="615.2" cy="315.5" rx="11.4" ry="11.0" fill="#000" filter="url(#blur03)"/>
<g filter="url(#blur1b)"><ellipse cx="616.5" cy="311.2" rx="5.78" ry="1.59" fill="#ff0000"/><ellipse cx="615.2" cy="316.9" rx="6.09" ry="1.74" fill="#ff0000"/><ellipse cx="615.0" cy="322.2" rx="4.20" ry="1.16" fill="#a00000"/></g>
<ellipse cx="650.6" cy="315.5" rx="11.4" ry="11.0" fill="#000" filter="url(#blur03)"/>
<g filter="url(#blur1b)"><ellipse cx="652.0" cy="312.4" rx="4.20" ry="1.30" fill="#d00000"/><ellipse cx="651.0" cy="319.0" rx="5.25" ry="1.30" fill="#b00000"/></g>
<text x="676.80" y="343.80" font-size="9.6" text-anchor="middle" fill="#000" stroke="#000" stroke-width="0.22" >200</text>
<ellipse cx="615.2" cy="339.9" rx="11.4" ry="11.0" fill="#000" filter="url(#blur03)"/>
<g filter="url(#blur1b)"><ellipse cx="615.5" cy="337.3" rx="7.88" ry="2.75" fill="#ff1010"/><ellipse cx="615.5" cy="336.9" rx="4.73" ry="1.30" fill="#ff9090"/><ellipse cx="615.5" cy="342.2" rx="5.78" ry="1.59" fill="#ee0000"/><ellipse cx="616.0" cy="347.8" rx="5.25" ry="1.30" fill="#a00000"/></g>
<ellipse cx="650.6" cy="339.9" rx="11.4" ry="11.0" fill="#000" filter="url(#blur03)"/>
<g filter="url(#blur1b)"><ellipse cx="650.0" cy="338.0" rx="5.25" ry="1.74" fill="#ff0000"/><ellipse cx="650.0" cy="343.9" rx="4.20" ry="1.30" fill="#b00000"/></g>
<text x="634.00" y="362.90" font-size="8.0" text-anchor="middle" fill="#333" stroke="#333" stroke-width="0.22" >1 mm</text>
<line x1="627.80" y1="366.40" x2="642.00" y2="366.40" stroke="#555" stroke-width="1.0" />
</svg>
</body></html>
